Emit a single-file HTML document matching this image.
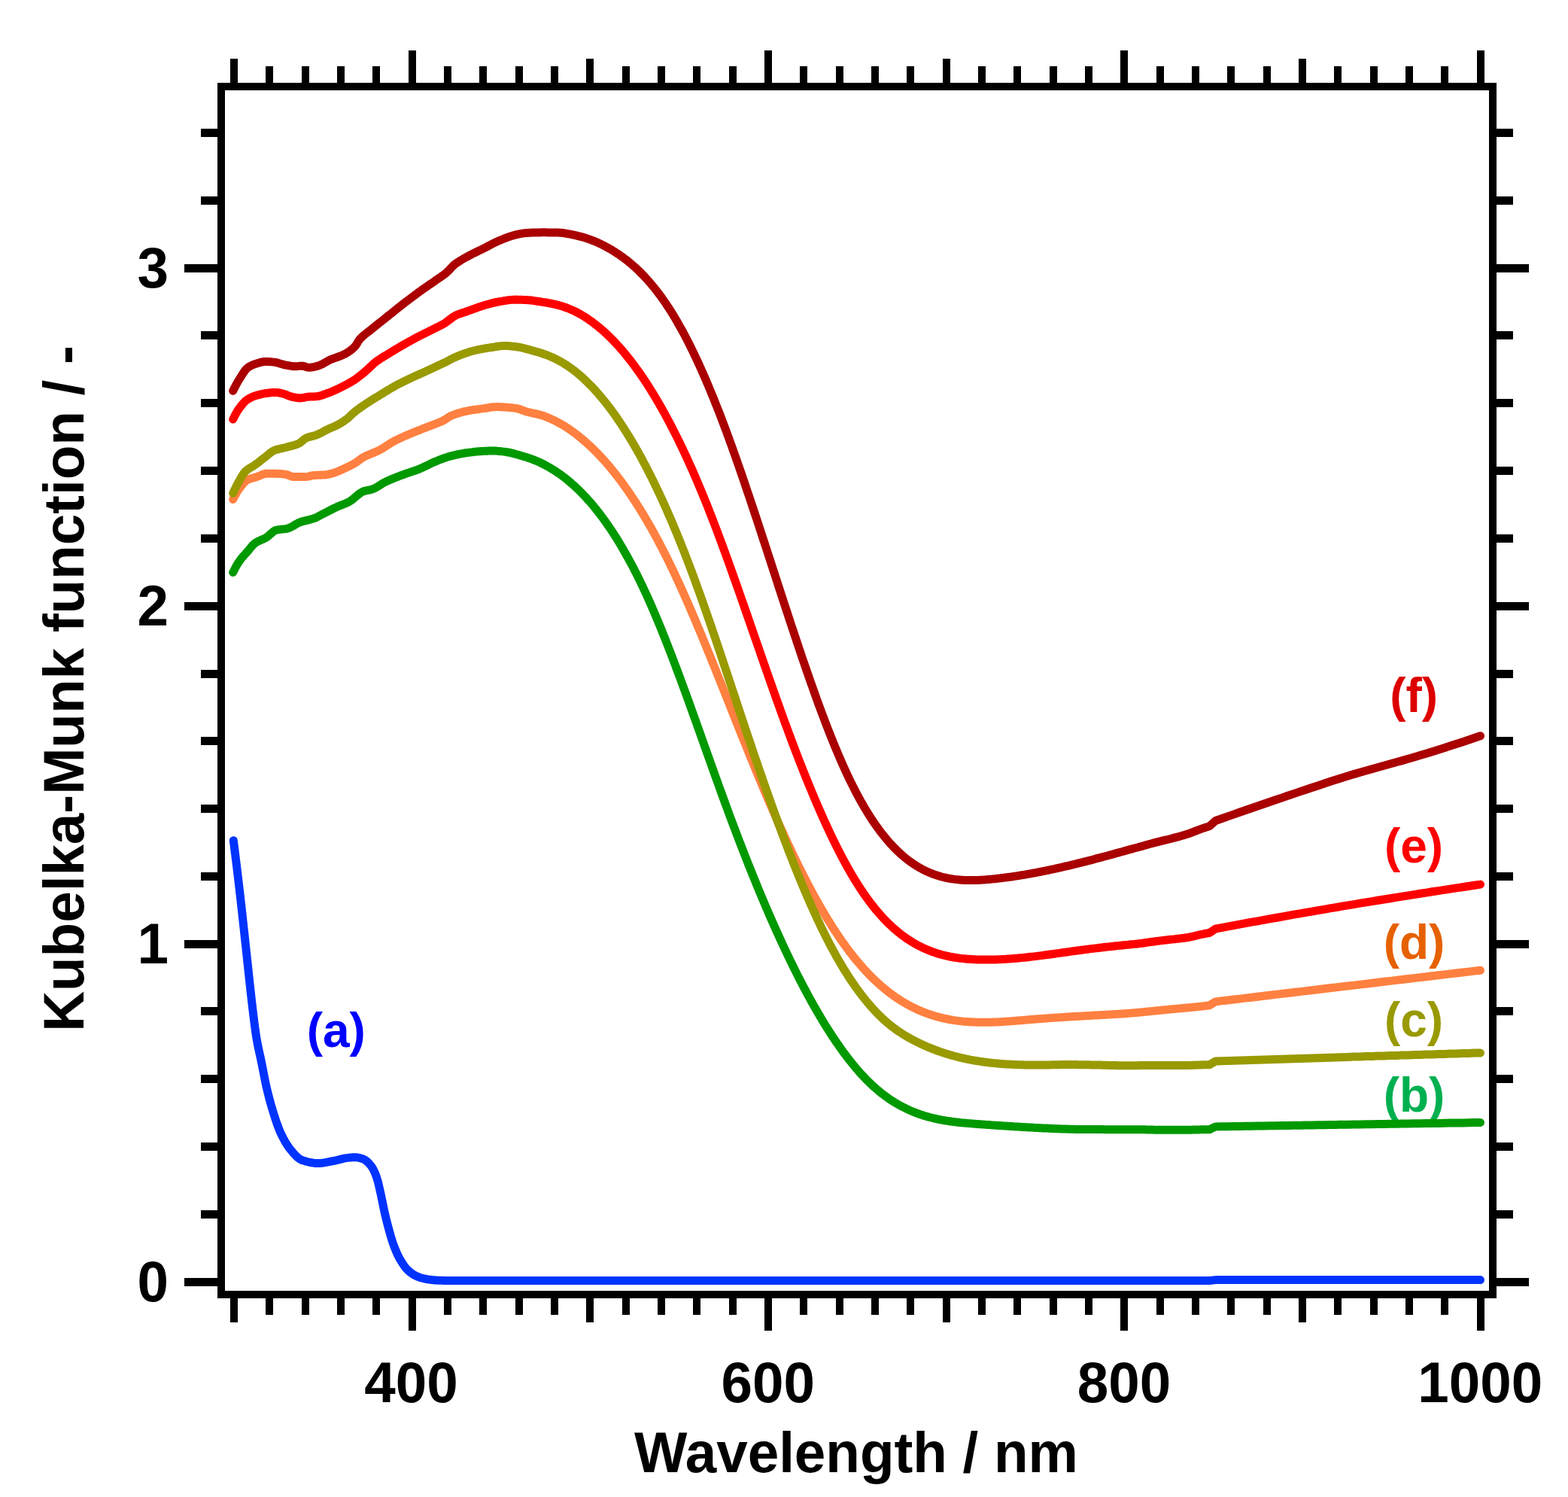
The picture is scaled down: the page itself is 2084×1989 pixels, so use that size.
<!DOCTYPE html>
<html lang="en">
<head>
<meta charset="utf-8">
<title>Kubelka-Munk function vs Wavelength</title>
<style>
html,body{margin:0;padding:0;background:#fff;}
body{width:2084px;height:1989px;overflow:hidden;}
svg{display:block;}
text{font-family:"Liberation Sans",sans-serif;font-weight:bold;}
</style>
</head>
<body>
<svg width="2084" height="1989" viewBox="0 0 2084 1989" role="img" aria-label="Kubelka-Munk function versus wavelength for samples (a) to (f)">
<rect x="0" y="0" width="2084" height="1989" fill="#ffffff"/>
<g>
<text transform="translate(446.8 1390.8) scale(1.0 1.0)" font-size="64" text-anchor="middle" fill="#0000ff">(a)</text>
<text transform="translate(1879.5 1477.3) scale(1.0 1.0)" font-size="64" text-anchor="middle" fill="#00b050">(b)</text>
<text transform="translate(1879.0 1376.9) scale(1.0 1.0)" font-size="64" text-anchor="middle" fill="#999900">(c)</text>
<text transform="translate(1879.5 1274.3) scale(1.0 1.0)" font-size="64" text-anchor="middle" fill="#e66100">(d)</text>
<text transform="translate(1879.0 1145.9) scale(1.0 1.0)" font-size="64" text-anchor="middle" fill="#ff0000">(e)</text>
<text transform="translate(1879.2 945.7) scale(1.0 1.0)" font-size="64" text-anchor="middle" fill="#dd0000">(f)</text>
</g>
<g fill="none" stroke-width="11" stroke-linecap="round" stroke-linejoin="round">
<path stroke="#aa0000" d="M309.7,519.3 L311.7,515.3 L313.7,511.4 L315.7,507.8 L317.7,504.5 L319.7,501.3 L321.7,498.1 L323.7,495.0 L325.7,492.2 L327.7,489.9 L329.7,488.2 L331.7,486.9 L333.7,485.9 L335.7,484.9 L337.7,484.1 L339.7,483.4 L341.7,482.8 L343.7,482.2 L345.7,481.6 L347.7,481.1 L349.7,480.7 L351.7,480.4 L353.7,480.4 L355.7,480.4 L357.7,480.6 L359.7,480.7 L361.7,480.9 L363.7,481.1 L365.7,481.4 L367.7,481.7 L369.7,482.3 L371.7,482.9 L373.7,483.5 L375.7,484.1 L377.7,484.6 L379.7,485.1 L381.7,485.4 L383.7,485.8 L385.7,486.1 L387.7,486.4 L389.7,486.7 L391.7,486.8 L393.7,486.8 L395.7,486.6 L397.7,486.4 L399.7,486.2 L401.7,486.2 L403.7,486.5 L405.7,487.1 L407.7,487.8 L409.7,488.2 L411.7,488.3 L413.7,488.1 L415.7,487.8 L417.7,487.4 L419.7,486.9 L421.7,486.4 L423.7,485.8 L425.7,485.0 L427.7,484.1 L429.7,483.0 L431.7,481.9 L433.7,480.7 L435.7,479.6 L437.7,478.5 L439.7,477.6 L441.7,476.8 L443.7,476.0 L445.7,475.4 L447.7,474.7 L449.7,474.0 L451.7,473.3 L453.7,472.5 L455.7,471.7 L457.7,470.7 L459.7,469.6 L461.7,468.4 L463.7,467.1 L465.7,465.7 L467.7,464.1 L469.7,462.4 L471.7,460.4 L473.7,457.7 L475.7,454.3 L477.7,451.3 L479.7,449.1 L481.7,447.2 L483.7,445.4 L485.7,443.8 L487.7,442.2 L489.7,440.7 L491.7,439.1 L493.7,437.5 L495.7,435.9 L497.7,434.2 L499.7,432.6 L501.7,431.0 L503.7,429.4 L505.7,427.9 L507.7,426.3 L509.7,424.7 L511.7,423.1 L513.7,421.5 L515.7,419.9 L517.7,418.3 L519.7,416.7 L521.7,415.1 L523.7,413.5 L525.7,411.9 L527.7,410.2 L529.7,408.6 L531.7,407.1 L533.7,405.5 L535.7,403.9 L537.7,402.4 L539.7,400.8 L541.7,399.3 L543.7,397.8 L545.7,396.3 L547.7,394.8 L549.7,393.3 L551.7,391.8 L553.7,390.4 L555.7,388.9 L557.7,387.4 L559.7,386.0 L561.7,384.6 L563.7,383.2 L565.7,381.8 L567.7,380.4 L569.7,379.0 L571.7,377.6 L573.7,376.3 L575.7,374.9 L577.7,373.5 L579.7,372.1 L581.7,370.7 L583.7,369.3 L585.7,368.0 L587.7,366.6 L589.7,365.2 L591.7,363.6 L593.7,362.0 L595.7,360.1 L597.7,358.0 L599.7,355.8 L601.7,353.7 L603.7,351.9 L605.7,350.3 L607.7,348.9 L609.7,347.6 L611.7,346.3 L613.7,345.1 L615.7,343.9 L617.7,342.8 L619.7,341.7 L621.7,340.6 L623.7,339.5 L625.7,338.5 L627.7,337.4 L629.7,336.4 L631.7,335.5 L633.7,334.5 L635.7,333.5 L637.7,332.6 L639.7,331.6 L641.7,330.6 L643.7,329.6 L645.7,328.6 L647.7,327.5 L649.7,326.5 L651.7,325.4 L653.7,324.4 L655.7,323.3 L657.7,322.3 L659.7,321.4 L661.7,320.5 L663.7,319.6 L665.7,318.8 L667.7,318.0 L669.7,317.2 L671.7,316.4 L673.7,315.6 L675.7,314.9 L677.7,314.2 L679.7,313.6 L681.7,313.0 L683.7,312.4 L685.7,311.9 L687.7,311.5 L689.7,311.0 L691.7,310.6 L693.7,310.3 L695.7,309.9 L697.7,309.7 L699.7,309.5 L701.7,309.4 L703.7,309.3 L705.7,309.2 L707.7,309.1 L709.7,309.1 L711.7,309.0 L713.7,308.9 L715.7,308.9 L717.7,308.9 L719.7,308.8 L721.7,308.8 L723.7,308.8 L725.7,308.8 L727.7,308.9 L729.7,308.9 L731.7,308.9 L733.7,308.9 L735.7,309.0 L737.7,309.0 L739.7,309.0 L741.7,309.1 L743.7,309.2 L745.7,309.3 L747.7,309.5 L749.7,309.8 L751.7,310.1 L753.7,310.5 L755.7,310.8 L757.7,311.2 L759.7,311.6 L761.7,312.0 L763.7,312.4 L765.7,312.8 L767.7,313.3 L769.7,313.8 L771.7,314.3 L773.7,314.9 L775.7,315.4 L777.7,316.1 L779.7,316.7 L781.7,317.4 L783.7,318.1 L785.7,318.8 L787.7,319.6 L789.7,320.4 L791.7,321.2 L793.7,322.1 L795.7,323.0 L797.7,323.9 L799.7,324.9 L801.7,325.9 L803.7,326.9 L805.7,328.0 L807.7,329.1 L809.7,330.2 L811.7,331.3 L813.7,332.5 L815.7,333.8 L817.7,335.0 L819.7,336.3 L821.7,337.6 L823.7,339.0 L825.7,340.4 L827.7,341.8 L829.7,343.3 L831.7,344.8 L833.7,346.4 L835.7,348.0 L837.7,349.7 L839.7,351.3 L841.7,353.1 L843.7,354.9 L845.7,356.7 L847.7,358.6 L849.7,360.5 L851.7,362.5 L853.7,364.5 L855.7,366.6 L857.7,368.7 L859.7,370.9 L861.7,373.1 L863.7,375.4 L865.7,377.8 L867.7,380.2 L869.7,382.6 L871.7,385.1 L873.7,387.7 L875.7,390.3 L877.7,393.0 L879.7,395.8 L881.7,398.6 L883.7,401.5 L885.7,404.4 L887.7,407.5 L889.7,410.5 L891.7,413.7 L893.7,416.9 L895.7,420.2 L897.7,423.5 L899.7,426.9 L901.7,430.4 L903.7,433.9 L905.7,437.5 L907.7,441.2 L909.7,444.9 L911.7,448.7 L913.7,452.6 L915.7,456.5 L917.7,460.5 L919.7,464.6 L921.7,468.7 L923.7,472.9 L925.7,477.1 L927.7,481.4 L929.7,485.8 L931.7,490.2 L933.7,494.7 L935.7,499.2 L937.7,503.8 L939.7,508.5 L941.7,513.2 L943.7,518.0 L945.7,522.8 L947.7,527.7 L949.7,532.7 L951.7,537.7 L953.7,542.7 L955.7,547.8 L957.7,553.0 L959.7,558.2 L961.7,563.5 L963.7,568.8 L965.7,574.2 L967.7,579.6 L969.7,585.1 L971.7,590.6 L973.7,596.2 L975.7,601.8 L977.7,607.4 L979.7,613.1 L981.7,618.8 L983.7,624.6 L985.7,630.4 L987.7,636.2 L989.7,642.1 L991.7,648.0 L993.7,653.9 L995.7,659.8 L997.7,665.8 L999.7,671.7 L1001.7,677.8 L1003.7,683.8 L1005.7,689.8 L1007.7,695.9 L1009.7,702.0 L1011.7,708.1 L1013.7,714.2 L1015.7,720.3 L1017.7,726.4 L1019.7,732.6 L1021.7,738.7 L1023.7,744.8 L1025.7,751.0 L1027.7,757.1 L1029.7,763.3 L1031.7,769.4 L1033.7,775.6 L1035.7,781.7 L1037.7,787.9 L1039.7,794.0 L1041.7,800.1 L1043.7,806.2 L1045.7,812.3 L1047.7,818.4 L1049.7,824.5 L1051.7,830.6 L1053.7,836.6 L1055.7,842.6 L1057.7,848.6 L1059.7,854.6 L1061.7,860.5 L1063.7,866.5 L1065.7,872.4 L1067.7,878.2 L1069.7,884.1 L1071.7,889.9 L1073.7,895.6 L1075.7,901.4 L1077.7,907.1 L1079.7,912.7 L1081.7,918.4 L1083.7,923.9 L1085.7,929.5 L1087.7,935.0 L1089.7,940.4 L1091.7,945.8 L1093.7,951.1 L1095.7,956.4 L1097.7,961.7 L1099.7,966.9 L1101.7,972.0 L1103.7,977.0 L1105.7,982.1 L1107.7,987.0 L1109.7,991.9 L1111.7,996.7 L1113.7,1001.4 L1115.7,1006.1 L1117.7,1010.7 L1119.7,1015.3 L1121.7,1019.7 L1123.7,1024.1 L1125.7,1028.5 L1127.7,1032.7 L1129.7,1036.8 L1131.7,1040.9 L1133.7,1044.9 L1135.7,1048.8 L1137.7,1052.7 L1139.7,1056.5 L1141.7,1060.2 L1143.7,1063.8 L1145.7,1067.3 L1147.7,1070.8 L1149.7,1074.2 L1151.7,1077.5 L1153.7,1080.8 L1155.7,1083.9 L1157.7,1087.1 L1159.7,1090.1 L1161.7,1093.1 L1163.7,1096.0 L1165.7,1098.8 L1167.7,1101.5 L1169.7,1104.2 L1171.7,1106.9 L1173.7,1109.4 L1175.7,1111.9 L1177.7,1114.3 L1179.7,1116.7 L1181.7,1119.0 L1183.7,1121.2 L1185.7,1123.4 L1187.7,1125.5 L1189.7,1127.5 L1191.7,1129.5 L1193.7,1131.4 L1195.7,1133.3 L1197.7,1135.1 L1199.7,1136.9 L1201.7,1138.6 L1203.7,1140.2 L1205.7,1141.8 L1207.7,1143.3 L1209.7,1144.8 L1211.7,1146.2 L1213.7,1147.6 L1215.7,1148.9 L1217.7,1150.2 L1219.7,1151.4 L1221.7,1152.6 L1223.7,1153.7 L1225.7,1154.8 L1227.7,1155.8 L1229.7,1156.8 L1231.7,1157.8 L1233.7,1158.7 L1235.7,1159.5 L1237.7,1160.3 L1239.7,1161.1 L1241.7,1161.9 L1243.7,1162.6 L1245.7,1163.2 L1247.7,1163.8 L1249.7,1164.4 L1251.7,1165.0 L1253.7,1165.5 L1255.7,1166.0 L1257.7,1166.4 L1259.7,1166.8 L1261.7,1167.2 L1263.7,1167.5 L1265.7,1167.9 L1267.7,1168.1 L1269.7,1168.4 L1271.7,1168.6 L1273.7,1168.8 L1275.7,1169.0 L1277.7,1169.2 L1279.7,1169.3 L1281.7,1169.4 L1283.7,1169.5 L1285.7,1169.5 L1287.7,1169.6 L1289.7,1169.6 L1291.7,1169.6 L1293.7,1169.6 L1295.7,1169.5 L1297.7,1169.5 L1299.7,1169.4 L1301.7,1169.3 L1303.7,1169.2 L1305.7,1169.1 L1307.7,1168.9 L1309.7,1168.8 L1311.7,1168.6 L1313.7,1168.5 L1315.7,1168.3 L1317.7,1168.1 L1319.7,1167.9 L1321.7,1167.7 L1323.7,1167.5 L1325.7,1167.2 L1327.7,1167.0 L1329.7,1166.8 L1331.7,1166.5 L1333.7,1166.3 L1335.7,1166.0 L1337.7,1165.8 L1339.7,1165.5 L1341.7,1165.2 L1343.7,1165.0 L1345.7,1164.7 L1347.7,1164.4 L1349.7,1164.1 L1351.7,1163.8 L1353.7,1163.5 L1355.7,1163.1 L1357.7,1162.8 L1359.7,1162.5 L1361.7,1162.2 L1363.7,1161.8 L1365.7,1161.5 L1367.7,1161.1 L1369.7,1160.8 L1371.7,1160.4 L1373.7,1160.0 L1375.7,1159.7 L1377.7,1159.3 L1379.7,1158.9 L1381.7,1158.5 L1383.7,1158.1 L1385.7,1157.7 L1387.7,1157.3 L1389.7,1156.9 L1391.7,1156.5 L1393.7,1156.1 L1395.7,1155.7 L1397.7,1155.2 L1399.7,1154.8 L1401.7,1154.4 L1403.7,1153.9 L1405.7,1153.5 L1407.7,1153.0 L1409.7,1152.6 L1411.7,1152.1 L1413.7,1151.7 L1415.7,1151.2 L1417.7,1150.7 L1419.7,1150.3 L1421.7,1149.8 L1423.7,1149.3 L1425.7,1148.8 L1427.7,1148.3 L1429.7,1147.9 L1431.7,1147.4 L1433.7,1146.9 L1435.7,1146.4 L1437.7,1145.9 L1439.7,1145.4 L1441.7,1144.9 L1443.7,1144.4 L1445.7,1143.8 L1447.7,1143.3 L1449.7,1142.8 L1451.7,1142.3 L1453.7,1141.8 L1455.7,1141.2 L1457.7,1140.7 L1459.7,1140.2 L1461.7,1139.7 L1463.7,1139.1 L1465.7,1138.6 L1467.7,1138.0 L1469.7,1137.5 L1471.7,1137.0 L1473.7,1136.4 L1475.7,1135.9 L1477.7,1135.3 L1479.7,1134.8 L1481.7,1134.2 L1483.7,1133.7 L1485.7,1133.1 L1487.7,1132.6 L1489.7,1132.0 L1491.7,1131.5 L1493.7,1130.9 L1495.7,1130.4 L1497.7,1129.8 L1499.7,1129.2 L1501.7,1128.7 L1503.7,1128.1 L1505.7,1127.6 L1507.7,1127.0 L1509.7,1126.5 L1511.7,1126.0 L1513.7,1125.4 L1515.7,1124.9 L1517.7,1124.3 L1519.7,1123.8 L1521.7,1123.2 L1523.7,1122.6 L1525.7,1122.1 L1527.7,1121.5 L1529.7,1121.0 L1531.7,1120.4 L1533.7,1119.9 L1535.7,1119.4 L1537.7,1118.9 L1539.7,1118.4 L1541.7,1117.9 L1543.7,1117.4 L1545.7,1116.9 L1547.7,1116.4 L1549.7,1116.0 L1551.7,1115.5 L1553.7,1115.0 L1555.7,1114.5 L1557.7,1113.9 L1559.7,1113.4 L1561.7,1112.9 L1563.7,1112.4 L1565.7,1111.8 L1567.7,1111.3 L1569.7,1110.7 L1571.7,1110.1 L1573.7,1109.6 L1575.7,1109.0 L1577.7,1108.3 L1579.7,1107.7 L1581.7,1107.0 L1583.7,1106.2 L1585.7,1105.5 L1587.7,1104.7 L1589.7,1103.9 L1591.7,1103.1 L1593.7,1102.4 L1595.7,1101.6 L1597.7,1100.9 L1599.7,1100.2 L1601.7,1099.6 L1603.7,1098.9 L1605.7,1098.3 L1607.5,1097.8 L1615.5,1090.5 L1623.5,1087.7 L1631.5,1084.9 L1639.5,1082.1 L1647.5,1079.3 L1655.5,1076.5 L1663.5,1073.7 L1671.5,1071.0 L1679.5,1068.2 L1687.5,1065.5 L1695.5,1062.8 L1703.5,1060.1 L1711.5,1057.3 L1719.5,1054.6 L1727.5,1051.9 L1735.5,1049.2 L1743.5,1046.5 L1751.5,1043.9 L1759.5,1041.2 L1767.5,1038.6 L1775.5,1036.1 L1783.5,1033.5 L1791.5,1031.1 L1799.5,1028.6 L1807.5,1026.3 L1815.5,1024.0 L1823.5,1021.7 L1831.5,1019.5 L1839.5,1017.3 L1847.5,1015.0 L1855.5,1012.8 L1863.5,1010.6 L1871.5,1008.3 L1879.5,1006.0 L1887.5,1003.6 L1895.5,1001.2 L1903.5,998.7 L1911.5,996.2 L1919.5,993.7 L1927.5,991.1 L1935.5,988.5 L1943.5,985.9 L1951.5,983.2 L1959.5,980.5 L1967.5,977.8"/>
<path stroke="#ff0000" d="M309.7,557.1 L311.7,553.1 L313.7,549.3 L315.7,545.9 L317.7,542.9 L319.7,540.2 L321.7,537.7 L323.7,535.3 L325.7,533.3 L327.7,531.6 L329.7,530.3 L331.7,529.1 L333.7,528.1 L335.7,527.2 L337.7,526.4 L339.7,525.7 L341.7,525.1 L343.7,524.6 L345.7,524.1 L347.7,523.6 L349.7,523.2 L351.7,522.8 L353.7,522.5 L355.7,522.3 L357.7,522.0 L359.7,521.8 L361.7,521.6 L363.7,521.5 L365.7,521.4 L367.7,521.5 L369.7,521.7 L371.7,522.1 L373.7,522.5 L375.7,523.0 L377.7,523.6 L379.7,524.2 L381.7,525.1 L383.7,525.9 L385.7,526.6 L387.7,527.1 L389.7,527.6 L391.7,528.0 L393.7,528.4 L395.7,528.7 L397.7,528.8 L399.7,528.9 L401.7,528.6 L403.7,528.3 L405.7,527.8 L407.7,527.4 L409.7,527.2 L411.7,527.1 L413.7,527.0 L415.7,526.9 L417.7,526.9 L419.7,526.8 L421.7,526.6 L423.7,526.3 L425.7,525.8 L427.7,525.2 L429.7,524.5 L431.7,523.8 L433.7,523.0 L435.7,522.3 L437.7,521.6 L439.7,520.8 L441.7,520.0 L443.7,519.1 L445.7,518.2 L447.7,517.3 L449.7,516.3 L451.7,515.3 L453.7,514.4 L455.7,513.4 L457.7,512.3 L459.7,511.3 L461.7,510.2 L463.7,509.1 L465.7,508.0 L467.7,506.8 L469.7,505.6 L471.7,504.3 L473.7,502.9 L475.7,501.4 L477.7,499.9 L479.7,498.3 L481.7,496.7 L483.7,495.0 L485.7,493.3 L487.7,491.6 L489.7,489.7 L491.7,487.8 L493.7,485.9 L495.7,484.0 L497.7,482.2 L499.7,480.6 L501.7,479.1 L503.7,477.8 L505.7,476.5 L507.7,475.2 L509.7,474.0 L511.7,472.8 L513.7,471.6 L515.7,470.4 L517.7,469.1 L519.7,467.9 L521.7,466.7 L523.7,465.5 L525.7,464.3 L527.7,463.1 L529.7,461.9 L531.7,460.7 L533.7,459.5 L535.7,458.4 L537.7,457.3 L539.7,456.1 L541.7,455.0 L543.7,453.9 L545.7,452.8 L547.7,451.7 L549.7,450.6 L551.7,449.5 L553.7,448.4 L555.7,447.4 L557.7,446.3 L559.7,445.3 L561.7,444.3 L563.7,443.3 L565.7,442.3 L567.7,441.3 L569.7,440.3 L571.7,439.3 L573.7,438.3 L575.7,437.3 L577.7,436.3 L579.7,435.3 L581.7,434.4 L583.7,433.4 L585.7,432.4 L587.7,431.4 L589.7,430.3 L591.7,429.0 L593.7,427.6 L595.7,426.0 L597.7,424.5 L599.7,423.0 L601.7,421.5 L603.7,420.2 L605.7,419.1 L607.7,418.2 L609.7,417.4 L611.7,416.7 L613.7,416.0 L615.7,415.3 L617.7,414.7 L619.7,414.0 L621.7,413.3 L623.7,412.6 L625.7,411.9 L627.7,411.1 L629.7,410.4 L631.7,409.7 L633.7,409.0 L635.7,408.2 L637.7,407.6 L639.7,406.9 L641.7,406.3 L643.7,405.7 L645.7,405.1 L647.7,404.5 L649.7,404.0 L651.7,403.4 L653.7,402.9 L655.7,402.4 L657.7,401.9 L659.7,401.5 L661.7,401.1 L663.7,400.7 L665.7,400.4 L667.7,400.1 L669.7,399.7 L671.7,399.4 L673.7,399.1 L675.7,398.8 L677.7,398.6 L679.7,398.4 L681.7,398.2 L683.7,398.2 L685.7,398.1 L687.7,398.2 L689.7,398.2 L691.7,398.2 L693.7,398.3 L695.7,398.4 L697.7,398.5 L699.7,398.5 L701.7,398.7 L703.7,398.8 L705.7,399.0 L707.7,399.3 L709.7,399.6 L711.7,399.9 L713.7,400.2 L715.7,400.5 L717.7,400.8 L719.7,401.1 L721.7,401.4 L723.7,401.7 L725.7,402.0 L727.7,402.4 L729.7,402.7 L731.7,403.1 L733.7,403.5 L735.7,404.0 L737.7,404.4 L739.7,404.9 L741.7,405.4 L743.7,405.9 L745.7,406.5 L747.7,407.1 L749.7,407.8 L751.7,408.5 L753.7,409.2 L755.7,410.0 L757.7,410.8 L759.7,411.7 L761.7,412.6 L763.7,413.5 L765.7,414.5 L767.7,415.5 L769.7,416.6 L771.7,417.7 L773.7,418.9 L775.7,420.1 L777.7,421.3 L779.7,422.6 L781.7,424.0 L783.7,425.4 L785.7,426.8 L787.7,428.2 L789.7,429.8 L791.7,431.3 L793.7,432.9 L795.7,434.5 L797.7,436.2 L799.7,437.9 L801.7,439.6 L803.7,441.4 L805.7,443.3 L807.7,445.2 L809.7,447.1 L811.7,449.1 L813.7,451.1 L815.7,453.1 L817.7,455.2 L819.7,457.4 L821.7,459.6 L823.7,461.8 L825.7,464.1 L827.7,466.4 L829.7,468.8 L831.7,471.2 L833.7,473.7 L835.7,476.2 L837.7,478.7 L839.7,481.3 L841.7,484.0 L843.7,486.7 L845.7,489.4 L847.7,492.2 L849.7,495.0 L851.7,497.9 L853.7,500.8 L855.7,503.8 L857.7,506.8 L859.7,509.8 L861.7,512.9 L863.7,516.1 L865.7,519.3 L867.7,522.5 L869.7,525.8 L871.7,529.2 L873.7,532.6 L875.7,536.0 L877.7,539.5 L879.7,543.0 L881.7,546.6 L883.7,550.2 L885.7,553.9 L887.7,557.6 L889.7,561.3 L891.7,565.1 L893.7,569.0 L895.7,572.9 L897.7,576.9 L899.7,580.9 L901.7,584.9 L903.7,589.0 L905.7,593.2 L907.7,597.4 L909.7,601.6 L911.7,605.9 L913.7,610.3 L915.7,614.7 L917.7,619.1 L919.7,623.6 L921.7,628.1 L923.7,632.7 L925.7,637.4 L927.7,642.1 L929.7,646.8 L931.7,651.6 L933.7,656.4 L935.7,661.3 L937.7,666.3 L939.7,671.2 L941.7,676.3 L943.7,681.4 L945.7,686.5 L947.7,691.7 L949.7,696.9 L951.7,702.1 L953.7,707.4 L955.7,712.8 L957.7,718.1 L959.7,723.5 L961.7,729.0 L963.7,734.4 L965.7,739.9 L967.7,745.4 L969.7,751.0 L971.7,756.6 L973.7,762.2 L975.7,767.8 L977.7,773.4 L979.7,779.1 L981.7,784.8 L983.7,790.5 L985.7,796.2 L987.7,801.9 L989.7,807.6 L991.7,813.4 L993.7,819.1 L995.7,824.9 L997.7,830.7 L999.7,836.4 L1001.7,842.2 L1003.7,848.0 L1005.7,853.8 L1007.7,859.5 L1009.7,865.3 L1011.7,871.1 L1013.7,876.8 L1015.7,882.6 L1017.7,888.3 L1019.7,894.0 L1021.7,899.7 L1023.7,905.4 L1025.7,911.1 L1027.7,916.8 L1029.7,922.4 L1031.7,928.1 L1033.7,933.7 L1035.7,939.2 L1037.7,944.8 L1039.7,950.3 L1041.7,955.8 L1043.7,961.3 L1045.7,966.7 L1047.7,972.2 L1049.7,977.5 L1051.7,982.9 L1053.7,988.2 L1055.7,993.5 L1057.7,998.7 L1059.7,1003.9 L1061.7,1009.1 L1063.7,1014.2 L1065.7,1019.3 L1067.7,1024.4 L1069.7,1029.4 L1071.7,1034.4 L1073.7,1039.3 L1075.7,1044.2 L1077.7,1049.0 L1079.7,1053.8 L1081.7,1058.6 L1083.7,1063.3 L1085.7,1068.0 L1087.7,1072.6 L1089.7,1077.2 L1091.7,1081.8 L1093.7,1086.3 L1095.7,1090.7 L1097.7,1095.1 L1099.7,1099.4 L1101.7,1103.7 L1103.7,1108.0 L1105.7,1112.2 L1107.7,1116.3 L1109.7,1120.4 L1111.7,1124.4 L1113.7,1128.4 L1115.7,1132.3 L1117.7,1136.2 L1119.7,1140.0 L1121.7,1143.7 L1123.7,1147.4 L1125.7,1151.0 L1127.7,1154.6 L1129.7,1158.1 L1131.7,1161.6 L1133.7,1164.9 L1135.7,1168.3 L1137.7,1171.5 L1139.7,1174.7 L1141.7,1177.9 L1143.7,1180.9 L1145.7,1183.9 L1147.7,1186.9 L1149.7,1189.7 L1151.7,1192.6 L1153.7,1195.3 L1155.7,1198.0 L1157.7,1200.6 L1159.7,1203.2 L1161.7,1205.7 L1163.7,1208.2 L1165.7,1210.6 L1167.7,1212.9 L1169.7,1215.2 L1171.7,1217.4 L1173.7,1219.6 L1175.7,1221.7 L1177.7,1223.8 L1179.7,1225.8 L1181.7,1227.7 L1183.7,1229.6 L1185.7,1231.5 L1187.7,1233.3 L1189.7,1235.0 L1191.7,1236.7 L1193.7,1238.4 L1195.7,1240.0 L1197.7,1241.6 L1199.7,1243.1 L1201.7,1244.6 L1203.7,1246.0 L1205.7,1247.4 L1207.7,1248.7 L1209.7,1250.0 L1211.7,1251.2 L1213.7,1252.5 L1215.7,1253.6 L1217.7,1254.8 L1219.7,1255.9 L1221.7,1256.9 L1223.7,1257.9 L1225.7,1258.9 L1227.7,1259.8 L1229.7,1260.7 L1231.7,1261.6 L1233.7,1262.4 L1235.7,1263.2 L1237.7,1264.0 L1239.7,1264.7 L1241.7,1265.4 L1243.7,1266.1 L1245.7,1266.8 L1247.7,1267.4 L1249.7,1267.9 L1251.7,1268.5 L1253.7,1269.0 L1255.7,1269.5 L1257.7,1270.0 L1259.7,1270.4 L1261.7,1270.9 L1263.7,1271.3 L1265.7,1271.6 L1267.7,1272.0 L1269.7,1272.3 L1271.7,1272.6 L1273.7,1272.9 L1275.7,1273.2 L1277.7,1273.4 L1279.7,1273.6 L1281.7,1273.8 L1283.7,1274.0 L1285.7,1274.2 L1287.7,1274.3 L1289.7,1274.5 L1291.7,1274.6 L1293.7,1274.7 L1295.7,1274.8 L1297.7,1274.9 L1299.7,1275.0 L1301.7,1275.0 L1303.7,1275.1 L1305.7,1275.1 L1307.7,1275.1 L1309.7,1275.1 L1311.7,1275.1 L1313.7,1275.1 L1315.7,1275.1 L1317.7,1275.1 L1319.7,1275.0 L1321.7,1275.0 L1323.7,1274.9 L1325.7,1274.8 L1327.7,1274.8 L1329.7,1274.7 L1331.7,1274.6 L1333.7,1274.5 L1335.7,1274.4 L1337.7,1274.2 L1339.7,1274.1 L1341.7,1274.0 L1343.7,1273.8 L1345.7,1273.7 L1347.7,1273.5 L1349.7,1273.3 L1351.7,1273.2 L1353.7,1273.0 L1355.7,1272.8 L1357.7,1272.6 L1359.7,1272.4 L1361.7,1272.2 L1363.7,1272.0 L1365.7,1271.8 L1367.7,1271.5 L1369.7,1271.3 L1371.7,1271.1 L1373.7,1270.9 L1375.7,1270.6 L1377.7,1270.4 L1379.7,1270.1 L1381.7,1269.9 L1383.7,1269.6 L1385.7,1269.4 L1387.7,1269.1 L1389.7,1268.8 L1391.7,1268.6 L1393.7,1268.3 L1395.7,1268.0 L1397.7,1267.7 L1399.7,1267.5 L1401.7,1267.2 L1403.7,1266.9 L1405.7,1266.6 L1407.7,1266.4 L1409.7,1266.1 L1411.7,1265.8 L1413.7,1265.5 L1415.7,1265.2 L1417.7,1265.0 L1419.7,1264.7 L1421.7,1264.4 L1423.7,1264.1 L1425.7,1263.8 L1427.7,1263.6 L1429.7,1263.3 L1431.7,1263.0 L1433.7,1262.7 L1435.7,1262.5 L1437.7,1262.2 L1439.7,1261.9 L1441.7,1261.7 L1443.7,1261.4 L1445.7,1261.2 L1447.7,1260.9 L1449.7,1260.6 L1451.7,1260.4 L1453.7,1260.2 L1455.7,1259.9 L1457.7,1259.7 L1459.7,1259.5 L1461.7,1259.2 L1463.7,1259.0 L1465.7,1258.8 L1467.7,1258.5 L1469.7,1258.3 L1471.7,1258.1 L1473.7,1257.9 L1475.7,1257.7 L1477.7,1257.5 L1479.7,1257.3 L1481.7,1257.0 L1483.7,1256.8 L1485.7,1256.6 L1487.7,1256.4 L1489.7,1256.2 L1491.7,1256.0 L1493.7,1255.8 L1495.7,1255.6 L1497.7,1255.4 L1499.7,1255.2 L1501.7,1255.0 L1503.7,1254.8 L1505.7,1254.6 L1507.7,1254.4 L1509.7,1254.2 L1511.7,1254.0 L1513.7,1253.7 L1515.7,1253.5 L1517.7,1253.3 L1519.7,1253.0 L1521.7,1252.7 L1523.7,1252.4 L1525.7,1252.1 L1527.7,1251.8 L1529.7,1251.5 L1531.7,1251.2 L1533.7,1251.0 L1535.7,1250.7 L1537.7,1250.4 L1539.7,1250.2 L1541.7,1249.9 L1543.7,1249.7 L1545.7,1249.4 L1547.7,1249.2 L1549.7,1249.0 L1551.7,1248.8 L1553.7,1248.5 L1555.7,1248.3 L1557.7,1248.1 L1559.7,1247.9 L1561.7,1247.7 L1563.7,1247.4 L1565.7,1247.2 L1567.7,1247.0 L1569.7,1246.8 L1571.7,1246.5 L1573.7,1246.3 L1575.7,1246.0 L1577.7,1245.7 L1579.7,1245.4 L1581.7,1245.0 L1583.7,1244.5 L1585.7,1244.1 L1587.7,1243.6 L1589.7,1243.1 L1591.7,1242.7 L1593.7,1242.2 L1595.7,1241.7 L1597.7,1241.3 L1599.7,1240.9 L1601.7,1240.5 L1603.7,1240.1 L1605.7,1239.8 L1607.5,1239.5 L1615.5,1234.1 L1623.5,1232.6 L1631.5,1231.1 L1639.5,1229.6 L1647.5,1228.2 L1655.5,1226.7 L1663.5,1225.2 L1671.5,1223.8 L1679.5,1222.4 L1687.5,1220.9 L1695.5,1219.5 L1703.5,1218.1 L1711.5,1216.6 L1719.5,1215.2 L1727.5,1213.8 L1735.5,1212.4 L1743.5,1211.1 L1751.5,1209.7 L1759.5,1208.3 L1767.5,1206.9 L1775.5,1205.6 L1783.5,1204.2 L1791.5,1202.9 L1799.5,1201.6 L1807.5,1200.2 L1815.5,1198.9 L1823.5,1197.6 L1831.5,1196.3 L1839.5,1195.0 L1847.5,1193.7 L1855.5,1192.4 L1863.5,1191.1 L1871.5,1189.9 L1879.5,1188.6 L1887.5,1187.3 L1895.5,1186.1 L1903.5,1184.8 L1911.5,1183.6 L1919.5,1182.4 L1927.5,1181.1 L1935.5,1179.9 L1943.5,1178.7 L1951.5,1177.5 L1959.5,1176.3 L1967.5,1175.1"/>
<path stroke="#ff8040" d="M309.7,663.5 L311.7,659.6 L313.7,656.0 L315.7,652.7 L317.7,649.7 L319.7,647.0 L321.7,644.4 L323.7,642.0 L325.7,639.9 L327.7,638.3 L329.7,637.2 L331.7,636.4 L333.7,635.8 L335.7,635.2 L337.7,634.6 L339.7,634.1 L341.7,633.4 L343.7,632.6 L345.7,631.8 L347.7,630.9 L349.7,630.1 L351.7,629.6 L353.7,629.3 L355.7,629.3 L357.7,629.3 L359.7,629.3 L361.7,629.3 L363.7,629.3 L365.7,629.3 L367.7,629.3 L369.7,629.4 L371.7,629.5 L373.7,629.6 L375.7,629.8 L377.7,630.1 L379.7,630.3 L381.7,630.8 L383.7,631.5 L385.7,632.4 L387.7,633.1 L389.7,633.5 L391.7,633.6 L393.7,633.6 L395.7,633.6 L397.7,633.6 L399.7,633.6 L401.7,633.6 L403.7,633.6 L405.7,633.6 L407.7,633.4 L409.7,633.1 L411.7,632.6 L413.7,632.1 L415.7,631.7 L417.7,631.5 L419.7,631.4 L421.7,631.3 L423.7,631.2 L425.7,631.2 L427.7,631.1 L429.7,631.1 L431.7,631.0 L433.7,630.7 L435.7,630.4 L437.7,629.9 L439.7,629.4 L441.7,628.8 L443.7,628.3 L445.7,627.6 L447.7,626.9 L449.7,626.1 L451.7,625.2 L453.7,624.3 L455.7,623.3 L457.7,622.4 L459.7,621.5 L461.7,620.6 L463.7,619.6 L465.7,618.6 L467.7,617.6 L469.7,616.5 L471.7,615.4 L473.7,614.1 L475.7,612.6 L477.7,611.1 L479.7,609.6 L481.7,608.3 L483.7,607.2 L485.7,606.2 L487.7,605.2 L489.7,604.4 L491.7,603.5 L493.7,602.7 L495.7,601.9 L497.7,601.1 L499.7,600.2 L501.7,599.3 L503.7,598.3 L505.7,597.2 L507.7,596.1 L509.7,594.9 L511.7,593.6 L513.7,592.3 L515.7,591.0 L517.7,589.8 L519.7,588.5 L521.7,587.3 L523.7,586.2 L525.7,585.2 L527.7,584.2 L529.7,583.2 L531.7,582.3 L533.7,581.3 L535.7,580.5 L537.7,579.6 L539.7,578.7 L541.7,577.9 L543.7,577.0 L545.7,576.2 L547.7,575.3 L549.7,574.5 L551.7,573.7 L553.7,572.9 L555.7,572.1 L557.7,571.3 L559.7,570.5 L561.7,569.7 L563.7,568.9 L565.7,568.2 L567.7,567.4 L569.7,566.6 L571.7,565.8 L573.7,565.1 L575.7,564.3 L577.7,563.6 L579.7,562.8 L581.7,562.0 L583.7,561.2 L585.7,560.4 L587.7,559.5 L589.7,558.5 L591.7,557.3 L593.7,556.0 L595.7,554.7 L597.7,553.4 L599.7,552.4 L601.7,551.6 L603.7,550.9 L605.7,550.1 L607.7,549.5 L609.7,548.8 L611.7,548.3 L613.7,547.7 L615.7,547.2 L617.7,546.7 L619.7,546.3 L621.7,545.9 L623.7,545.5 L625.7,545.1 L627.7,544.8 L629.7,544.5 L631.7,544.2 L633.7,543.9 L635.7,543.7 L637.7,543.4 L639.7,543.1 L641.7,542.9 L643.7,542.6 L645.7,542.3 L647.7,542.0 L649.7,541.6 L651.7,541.3 L653.7,541.0 L655.7,540.8 L657.7,540.7 L659.7,540.6 L661.7,540.6 L663.7,540.7 L665.7,540.7 L667.7,540.8 L669.7,540.9 L671.7,541.1 L673.7,541.2 L675.7,541.4 L677.7,541.5 L679.7,541.7 L681.7,541.9 L683.7,542.2 L685.7,542.4 L687.7,542.8 L689.7,543.3 L691.7,544.0 L693.7,544.8 L695.7,545.6 L697.7,546.3 L699.7,546.9 L701.7,547.5 L703.7,548.0 L705.7,548.4 L707.7,548.9 L709.7,549.3 L711.7,549.7 L713.7,550.2 L715.7,550.7 L717.7,551.2 L719.7,551.7 L721.7,552.3 L723.7,553.0 L725.7,553.8 L727.7,554.6 L729.7,555.4 L731.7,556.3 L733.7,557.3 L735.7,558.2 L737.7,559.2 L739.7,560.2 L741.7,561.3 L743.7,562.3 L745.7,563.5 L747.7,564.6 L749.7,565.8 L751.7,567.0 L753.7,568.3 L755.7,569.6 L757.7,571.0 L759.7,572.4 L761.7,573.8 L763.7,575.3 L765.7,576.8 L767.7,578.4 L769.7,580.0 L771.7,581.6 L773.7,583.3 L775.7,585.0 L777.7,586.7 L779.7,588.5 L781.7,590.3 L783.7,592.1 L785.7,594.0 L787.7,595.9 L789.7,597.9 L791.7,599.9 L793.7,601.9 L795.7,604.0 L797.7,606.1 L799.7,608.2 L801.7,610.4 L803.7,612.7 L805.7,614.9 L807.7,617.2 L809.7,619.6 L811.7,622.0 L813.7,624.4 L815.7,626.9 L817.7,629.4 L819.7,631.9 L821.7,634.5 L823.7,637.1 L825.7,639.8 L827.7,642.5 L829.7,645.3 L831.7,648.1 L833.7,650.9 L835.7,653.8 L837.7,656.7 L839.7,659.7 L841.7,662.7 L843.7,665.7 L845.7,668.8 L847.7,671.9 L849.7,675.1 L851.7,678.3 L853.7,681.6 L855.7,684.9 L857.7,688.3 L859.7,691.7 L861.7,695.1 L863.7,698.6 L865.7,702.1 L867.7,705.7 L869.7,709.3 L871.7,713.0 L873.7,716.7 L875.7,720.4 L877.7,724.2 L879.7,728.0 L881.7,731.9 L883.7,735.9 L885.7,739.8 L887.7,743.9 L889.7,747.9 L891.7,752.1 L893.7,756.2 L895.7,760.4 L897.7,764.7 L899.7,769.0 L901.7,773.3 L903.7,777.7 L905.7,782.1 L907.7,786.5 L909.7,791.0 L911.7,795.6 L913.7,800.1 L915.7,804.7 L917.7,809.3 L919.7,814.0 L921.7,818.6 L923.7,823.3 L925.7,828.1 L927.7,832.8 L929.7,837.6 L931.7,842.4 L933.7,847.3 L935.7,852.1 L937.7,857.0 L939.7,861.9 L941.7,866.8 L943.7,871.7 L945.7,876.6 L947.7,881.6 L949.7,886.5 L951.7,891.5 L953.7,896.5 L955.7,901.5 L957.7,906.5 L959.7,911.5 L961.7,916.5 L963.7,921.5 L965.7,926.5 L967.7,931.5 L969.7,936.6 L971.7,941.6 L973.7,946.6 L975.7,951.6 L977.7,956.6 L979.7,961.6 L981.7,966.6 L983.7,971.6 L985.7,976.6 L987.7,981.6 L989.7,986.6 L991.7,991.5 L993.7,996.5 L995.7,1001.4 L997.7,1006.3 L999.7,1011.2 L1001.7,1016.1 L1003.7,1021.0 L1005.7,1025.8 L1007.7,1030.7 L1009.7,1035.5 L1011.7,1040.3 L1013.7,1045.0 L1015.7,1049.8 L1017.7,1054.5 L1019.7,1059.2 L1021.7,1063.9 L1023.7,1068.5 L1025.7,1073.2 L1027.7,1077.8 L1029.7,1082.3 L1031.7,1086.9 L1033.7,1091.4 L1035.7,1095.9 L1037.7,1100.3 L1039.7,1104.8 L1041.7,1109.1 L1043.7,1113.5 L1045.7,1117.8 L1047.7,1122.1 L1049.7,1126.4 L1051.7,1130.6 L1053.7,1134.8 L1055.7,1139.0 L1057.7,1143.1 L1059.7,1147.2 L1061.7,1151.3 L1063.7,1155.3 L1065.7,1159.3 L1067.7,1163.2 L1069.7,1167.1 L1071.7,1171.0 L1073.7,1174.8 L1075.7,1178.6 L1077.7,1182.4 L1079.7,1186.1 L1081.7,1189.8 L1083.7,1193.4 L1085.7,1197.0 L1087.7,1200.5 L1089.7,1204.0 L1091.7,1207.5 L1093.7,1210.9 L1095.7,1214.3 L1097.7,1217.7 L1099.7,1221.0 L1101.7,1224.2 L1103.7,1227.4 L1105.7,1230.6 L1107.7,1233.7 L1109.7,1236.8 L1111.7,1239.8 L1113.7,1242.8 L1115.7,1245.7 L1117.7,1248.6 L1119.7,1251.5 L1121.7,1254.3 L1123.7,1257.1 L1125.7,1259.8 L1127.7,1262.5 L1129.7,1265.1 L1131.7,1267.7 L1133.7,1270.2 L1135.7,1272.7 L1137.7,1275.2 L1139.7,1277.6 L1141.7,1279.9 L1143.7,1282.3 L1145.7,1284.5 L1147.7,1286.8 L1149.7,1289.0 L1151.7,1291.1 L1153.7,1293.3 L1155.7,1295.3 L1157.7,1297.4 L1159.7,1299.3 L1161.7,1301.3 L1163.7,1303.2 L1165.7,1305.1 L1167.7,1306.9 L1169.7,1308.7 L1171.7,1310.4 L1173.7,1312.1 L1175.7,1313.8 L1177.7,1315.4 L1179.7,1317.0 L1181.7,1318.6 L1183.7,1320.1 L1185.7,1321.6 L1187.7,1323.0 L1189.7,1324.4 L1191.7,1325.8 L1193.7,1327.1 L1195.7,1328.4 L1197.7,1329.7 L1199.7,1330.9 L1201.7,1332.1 L1203.7,1333.3 L1205.7,1334.4 L1207.7,1335.5 L1209.7,1336.6 L1211.7,1337.7 L1213.7,1338.7 L1215.7,1339.6 L1217.7,1340.6 L1219.7,1341.5 L1221.7,1342.4 L1223.7,1343.2 L1225.7,1344.1 L1227.7,1344.9 L1229.7,1345.6 L1231.7,1346.4 L1233.7,1347.1 L1235.7,1347.8 L1237.7,1348.5 L1239.7,1349.1 L1241.7,1349.7 L1243.7,1350.3 L1245.7,1350.9 L1247.7,1351.4 L1249.7,1351.9 L1251.7,1352.4 L1253.7,1352.9 L1255.7,1353.3 L1257.7,1353.7 L1259.7,1354.2 L1261.7,1354.5 L1263.7,1354.9 L1265.7,1355.2 L1267.7,1355.6 L1269.7,1355.9 L1271.7,1356.1 L1273.7,1356.4 L1275.7,1356.6 L1277.7,1356.9 L1279.7,1357.1 L1281.7,1357.3 L1283.7,1357.4 L1285.7,1357.6 L1287.7,1357.7 L1289.7,1357.8 L1291.7,1358.0 L1293.7,1358.1 L1295.7,1358.1 L1297.7,1358.2 L1299.7,1358.2 L1301.7,1358.3 L1303.7,1358.3 L1305.7,1358.3 L1307.7,1358.3 L1309.7,1358.3 L1311.7,1358.3 L1313.7,1358.3 L1315.7,1358.2 L1317.7,1358.2 L1319.7,1358.1 L1321.7,1358.0 L1323.7,1358.0 L1325.7,1357.9 L1327.7,1357.8 L1329.7,1357.7 L1331.7,1357.6 L1333.7,1357.4 L1335.7,1357.3 L1337.7,1357.2 L1339.7,1357.1 L1341.7,1356.9 L1343.7,1356.8 L1345.7,1356.6 L1347.7,1356.5 L1349.7,1356.3 L1351.7,1356.1 L1353.7,1356.0 L1355.7,1355.8 L1357.7,1355.7 L1359.7,1355.5 L1361.7,1355.3 L1363.7,1355.1 L1365.7,1355.0 L1367.7,1354.8 L1369.7,1354.6 L1371.7,1354.5 L1373.7,1354.3 L1375.7,1354.1 L1377.7,1354.0 L1379.7,1353.8 L1381.7,1353.7 L1383.7,1353.5 L1385.7,1353.4 L1387.7,1353.2 L1389.7,1353.1 L1391.7,1352.9 L1393.7,1352.8 L1395.7,1352.6 L1397.7,1352.5 L1399.7,1352.3 L1401.7,1352.2 L1403.7,1352.1 L1405.7,1351.9 L1407.7,1351.8 L1409.7,1351.7 L1411.7,1351.6 L1413.7,1351.4 L1415.7,1351.3 L1417.7,1351.2 L1419.7,1351.1 L1421.7,1351.0 L1423.7,1350.8 L1425.7,1350.7 L1427.7,1350.6 L1429.7,1350.5 L1431.7,1350.4 L1433.7,1350.3 L1435.7,1350.1 L1437.7,1350.0 L1439.7,1349.9 L1441.7,1349.8 L1443.7,1349.7 L1445.7,1349.6 L1447.7,1349.5 L1449.7,1349.4 L1451.7,1349.2 L1453.7,1349.1 L1455.7,1349.0 L1457.7,1348.9 L1459.7,1348.8 L1461.7,1348.7 L1463.7,1348.6 L1465.7,1348.5 L1467.7,1348.4 L1469.7,1348.3 L1471.7,1348.1 L1473.7,1348.0 L1475.7,1347.9 L1477.7,1347.8 L1479.7,1347.7 L1481.7,1347.6 L1483.7,1347.4 L1485.7,1347.3 L1487.7,1347.2 L1489.7,1347.1 L1491.7,1346.9 L1493.7,1346.8 L1495.7,1346.7 L1497.7,1346.5 L1499.7,1346.4 L1501.7,1346.2 L1503.7,1346.1 L1505.7,1345.9 L1507.7,1345.7 L1509.7,1345.5 L1511.7,1345.4 L1513.7,1345.2 L1515.7,1345.0 L1517.7,1344.8 L1519.7,1344.6 L1521.7,1344.4 L1523.7,1344.2 L1525.7,1344.0 L1527.7,1343.8 L1529.7,1343.6 L1531.7,1343.4 L1533.7,1343.2 L1535.7,1343.0 L1537.7,1342.8 L1539.7,1342.6 L1541.7,1342.4 L1543.7,1342.2 L1545.7,1342.0 L1547.7,1341.8 L1549.7,1341.6 L1551.7,1341.4 L1553.7,1341.2 L1555.7,1341.0 L1557.7,1340.8 L1559.7,1340.6 L1561.7,1340.4 L1563.7,1340.3 L1565.7,1340.1 L1567.7,1339.9 L1569.7,1339.7 L1571.7,1339.5 L1573.7,1339.3 L1575.7,1339.2 L1577.7,1339.0 L1579.7,1338.8 L1581.7,1338.6 L1583.7,1338.4 L1585.7,1338.2 L1587.7,1338.0 L1589.7,1337.8 L1591.7,1337.6 L1593.7,1337.4 L1595.7,1337.2 L1597.7,1337.0 L1599.7,1336.7 L1601.7,1336.5 L1603.7,1336.3 L1605.7,1336.0 L1607.5,1335.8 L1615.5,1330.9 L1623.5,1329.9 L1631.5,1329.0 L1639.5,1328.0 L1647.5,1327.1 L1655.5,1326.1 L1663.5,1325.2 L1671.5,1324.2 L1679.5,1323.3 L1687.5,1322.3 L1695.5,1321.4 L1703.5,1320.4 L1711.5,1319.5 L1719.5,1318.5 L1727.5,1317.6 L1735.5,1316.6 L1743.5,1315.7 L1751.5,1314.7 L1759.5,1313.8 L1767.5,1312.8 L1775.5,1311.9 L1783.5,1310.9 L1791.5,1310.0 L1799.5,1309.1 L1807.5,1308.1 L1815.5,1307.2 L1823.5,1306.2 L1831.5,1305.3 L1839.5,1304.3 L1847.5,1303.4 L1855.5,1302.4 L1863.5,1301.5 L1871.5,1300.5 L1879.5,1299.6 L1887.5,1298.6 L1895.5,1297.7 L1903.5,1296.8 L1911.5,1295.8 L1919.5,1294.9 L1927.5,1293.9 L1935.5,1293.0 L1943.5,1292.0 L1951.5,1291.1 L1959.5,1290.1 L1967.5,1289.2"/>
<path stroke="#999900" d="M309.7,655.4 L311.7,651.0 L313.7,646.8 L315.7,642.9 L317.7,639.3 L319.7,635.8 L321.7,632.3 L323.7,629.3 L325.7,626.8 L327.7,624.9 L329.7,623.4 L331.7,622.1 L333.7,620.9 L335.7,619.8 L337.7,618.5 L339.7,617.2 L341.7,615.7 L343.7,614.1 L345.7,612.5 L347.7,610.9 L349.7,609.4 L351.7,607.8 L353.7,606.3 L355.7,604.6 L357.7,602.9 L359.7,601.4 L361.7,599.9 L363.7,598.8 L365.7,598.0 L367.7,597.3 L369.7,596.8 L371.7,596.3 L373.7,595.9 L375.7,595.5 L377.7,595.0 L379.7,594.5 L381.7,593.9 L383.7,593.4 L385.7,592.9 L387.7,592.4 L389.7,591.9 L391.7,591.3 L393.7,590.6 L395.7,589.8 L397.7,588.9 L399.7,587.6 L401.7,585.9 L403.7,584.2 L405.7,582.7 L407.7,581.6 L409.7,580.9 L411.7,580.3 L413.7,579.8 L415.7,579.3 L417.7,578.8 L419.7,578.2 L421.7,577.5 L423.7,576.6 L425.7,575.6 L427.7,574.6 L429.7,573.5 L431.7,572.4 L433.7,571.3 L435.7,570.4 L437.7,569.4 L439.7,568.6 L441.7,567.7 L443.7,566.9 L445.7,566.0 L447.7,565.0 L449.7,564.0 L451.7,562.9 L453.7,561.7 L455.7,560.4 L457.7,559.0 L459.7,557.6 L461.7,556.1 L463.7,554.3 L465.7,552.5 L467.7,550.6 L469.7,548.7 L471.7,547.0 L473.7,545.4 L475.7,543.9 L477.7,542.5 L479.7,541.0 L481.7,539.7 L483.7,538.3 L485.7,537.0 L487.7,535.6 L489.7,534.3 L491.7,533.0 L493.7,531.8 L495.7,530.5 L497.7,529.3 L499.7,528.1 L501.7,526.9 L503.7,525.7 L505.7,524.4 L507.7,523.2 L509.7,522.0 L511.7,520.7 L513.7,519.5 L515.7,518.3 L517.7,517.1 L519.7,515.9 L521.7,514.7 L523.7,513.6 L525.7,512.5 L527.7,511.4 L529.7,510.4 L531.7,509.3 L533.7,508.3 L535.7,507.3 L537.7,506.4 L539.7,505.4 L541.7,504.4 L543.7,503.5 L545.7,502.5 L547.7,501.6 L549.7,500.6 L551.7,499.7 L553.7,498.8 L555.7,497.9 L557.7,497.1 L559.7,496.2 L561.7,495.3 L563.7,494.4 L565.7,493.5 L567.7,492.6 L569.7,491.7 L571.7,490.7 L573.7,489.8 L575.7,488.9 L577.7,487.9 L579.7,487.0 L581.7,486.0 L583.7,485.1 L585.7,484.2 L587.7,483.2 L589.7,482.3 L591.7,481.3 L593.7,480.3 L595.7,479.3 L597.7,478.2 L599.7,477.2 L601.7,476.2 L603.7,475.2 L605.7,474.3 L607.7,473.4 L609.7,472.6 L611.7,471.8 L613.7,471.1 L615.7,470.3 L617.7,469.6 L619.7,468.9 L621.7,468.3 L623.7,467.6 L625.7,467.0 L627.7,466.5 L629.7,466.0 L631.7,465.5 L633.7,465.0 L635.7,464.6 L637.7,464.2 L639.7,463.8 L641.7,463.4 L643.7,463.1 L645.7,462.7 L647.7,462.4 L649.7,462.1 L651.7,461.8 L653.7,461.5 L655.7,461.2 L657.7,460.9 L659.7,460.5 L661.7,460.2 L663.7,459.9 L665.7,459.7 L667.7,459.5 L669.7,459.5 L671.7,459.5 L673.7,459.5 L675.7,459.6 L677.7,459.8 L679.7,460.0 L681.7,460.2 L683.7,460.4 L685.7,460.7 L687.7,461.0 L689.7,461.3 L691.7,461.6 L693.7,462.0 L695.7,462.5 L697.7,463.1 L699.7,463.6 L701.7,464.2 L703.7,464.7 L705.7,465.3 L707.7,465.8 L709.7,466.3 L711.7,466.9 L713.7,467.5 L715.7,468.1 L717.7,468.7 L719.7,469.3 L721.7,470.0 L723.7,470.7 L725.7,471.4 L727.7,472.2 L729.7,473.0 L731.7,473.8 L733.7,474.7 L735.7,475.6 L737.7,476.6 L739.7,477.5 L741.7,478.6 L743.7,479.6 L745.7,480.7 L747.7,481.9 L749.7,483.1 L751.7,484.4 L753.7,485.7 L755.7,487.0 L757.7,488.4 L759.7,489.8 L761.7,491.3 L763.7,492.9 L765.7,494.4 L767.7,496.1 L769.7,497.7 L771.7,499.4 L773.7,501.2 L775.7,503.0 L777.7,504.9 L779.7,506.8 L781.7,508.8 L783.7,510.8 L785.7,512.8 L787.7,514.9 L789.7,517.0 L791.7,519.2 L793.7,521.5 L795.7,523.8 L797.7,526.1 L799.7,528.5 L801.7,530.9 L803.7,533.4 L805.7,535.9 L807.7,538.5 L809.7,541.1 L811.7,543.8 L813.7,546.5 L815.7,549.2 L817.7,552.0 L819.7,554.9 L821.7,557.8 L823.7,560.8 L825.7,563.8 L827.7,566.8 L829.7,569.9 L831.7,573.1 L833.7,576.3 L835.7,579.5 L837.7,582.8 L839.7,586.1 L841.7,589.5 L843.7,593.0 L845.7,596.5 L847.7,600.0 L849.7,603.6 L851.7,607.2 L853.7,610.9 L855.7,614.7 L857.7,618.4 L859.7,622.3 L861.7,626.2 L863.7,630.1 L865.7,634.1 L867.7,638.1 L869.7,642.2 L871.7,646.3 L873.7,650.5 L875.7,654.7 L877.7,659.0 L879.7,663.3 L881.7,667.7 L883.7,672.1 L885.7,676.6 L887.7,681.2 L889.7,685.7 L891.7,690.4 L893.7,695.0 L895.7,699.8 L897.7,704.6 L899.7,709.4 L901.7,714.3 L903.7,719.2 L905.7,724.2 L907.7,729.2 L909.7,734.3 L911.7,739.4 L913.7,744.6 L915.7,749.9 L917.7,755.2 L919.7,760.5 L921.7,765.9 L923.7,771.3 L925.7,776.8 L927.7,782.3 L929.7,787.9 L931.7,793.5 L933.7,799.1 L935.7,804.8 L937.7,810.5 L939.7,816.2 L941.7,822.0 L943.7,827.8 L945.7,833.6 L947.7,839.5 L949.7,845.3 L951.7,851.2 L953.7,857.1 L955.7,863.1 L957.7,869.0 L959.7,875.0 L961.7,881.0 L963.7,887.0 L965.7,893.0 L967.7,899.0 L969.7,905.0 L971.7,911.0 L973.7,917.1 L975.7,923.1 L977.7,929.1 L979.7,935.2 L981.7,941.2 L983.7,947.2 L985.7,953.2 L987.7,959.2 L989.7,965.2 L991.7,971.2 L993.7,977.2 L995.7,983.1 L997.7,989.1 L999.7,995.0 L1001.7,1000.9 L1003.7,1006.8 L1005.7,1012.6 L1007.7,1018.5 L1009.7,1024.3 L1011.7,1030.1 L1013.7,1035.8 L1015.7,1041.6 L1017.7,1047.3 L1019.7,1052.9 L1021.7,1058.6 L1023.7,1064.2 L1025.7,1069.8 L1027.7,1075.4 L1029.7,1080.9 L1031.7,1086.4 L1033.7,1091.8 L1035.7,1097.3 L1037.7,1102.6 L1039.7,1108.0 L1041.7,1113.3 L1043.7,1118.6 L1045.7,1123.9 L1047.7,1129.1 L1049.7,1134.2 L1051.7,1139.4 L1053.7,1144.4 L1055.7,1149.5 L1057.7,1154.5 L1059.7,1159.4 L1061.7,1164.4 L1063.7,1169.2 L1065.7,1174.1 L1067.7,1178.8 L1069.7,1183.6 L1071.7,1188.2 L1073.7,1192.9 L1075.7,1197.5 L1077.7,1202.0 L1079.7,1206.5 L1081.7,1210.9 L1083.7,1215.3 L1085.7,1219.6 L1087.7,1223.9 L1089.7,1228.1 L1091.7,1232.3 L1093.7,1236.4 L1095.7,1240.5 L1097.7,1244.4 L1099.7,1248.4 L1101.7,1252.3 L1103.7,1256.1 L1105.7,1259.8 L1107.7,1263.5 L1109.7,1267.2 L1111.7,1270.8 L1113.7,1274.3 L1115.7,1277.7 L1117.7,1281.1 L1119.7,1284.5 L1121.7,1287.8 L1123.7,1291.0 L1125.7,1294.2 L1127.7,1297.3 L1129.7,1300.4 L1131.7,1303.4 L1133.7,1306.3 L1135.7,1309.2 L1137.7,1312.1 L1139.7,1314.9 L1141.7,1317.6 L1143.7,1320.3 L1145.7,1322.9 L1147.7,1325.4 L1149.7,1327.9 L1151.7,1330.4 L1153.7,1332.8 L1155.7,1335.1 L1157.7,1337.4 L1159.7,1339.7 L1161.7,1341.9 L1163.7,1344.0 L1165.7,1346.1 L1167.7,1348.1 L1169.7,1350.1 L1171.7,1352.0 L1173.7,1353.9 L1175.7,1355.7 L1177.7,1357.5 L1179.7,1359.2 L1181.7,1360.8 L1183.7,1362.5 L1185.7,1364.0 L1187.7,1365.6 L1189.7,1367.0 L1191.7,1368.5 L1193.7,1369.9 L1195.7,1371.2 L1197.7,1372.5 L1199.7,1373.8 L1201.7,1375.1 L1203.7,1376.3 L1205.7,1377.5 L1207.7,1378.6 L1209.7,1379.7 L1211.7,1380.8 L1213.7,1381.9 L1215.7,1382.9 L1217.7,1383.9 L1219.7,1384.9 L1221.7,1385.9 L1223.7,1386.9 L1225.7,1387.8 L1227.7,1388.7 L1229.7,1389.6 L1231.7,1390.5 L1233.7,1391.3 L1235.7,1392.1 L1237.7,1393.0 L1239.7,1393.7 L1241.7,1394.5 L1243.7,1395.3 L1245.7,1396.0 L1247.7,1396.7 L1249.7,1397.4 L1251.7,1398.1 L1253.7,1398.8 L1255.7,1399.4 L1257.7,1400.1 L1259.7,1400.7 L1261.7,1401.3 L1263.7,1401.9 L1265.7,1402.4 L1267.7,1403.0 L1269.7,1403.5 L1271.7,1404.0 L1273.7,1404.6 L1275.7,1405.0 L1277.7,1405.5 L1279.7,1406.0 L1281.7,1406.4 L1283.7,1406.9 L1285.7,1407.3 L1287.7,1407.7 L1289.7,1408.1 L1291.7,1408.4 L1293.7,1408.8 L1295.7,1409.2 L1297.7,1409.5 L1299.7,1409.8 L1301.7,1410.1 L1303.7,1410.4 L1305.7,1410.7 L1307.7,1411.0 L1309.7,1411.3 L1311.7,1411.5 L1313.7,1411.8 L1315.7,1412.0 L1317.7,1412.2 L1319.7,1412.4 L1321.7,1412.6 L1323.7,1412.8 L1325.7,1413.0 L1327.7,1413.2 L1329.7,1413.4 L1331.7,1413.5 L1333.7,1413.7 L1335.7,1413.8 L1337.7,1413.9 L1339.7,1414.0 L1341.7,1414.1 L1343.7,1414.3 L1345.7,1414.3 L1347.7,1414.4 L1349.7,1414.5 L1351.7,1414.6 L1353.7,1414.7 L1355.7,1414.7 L1357.7,1414.8 L1359.7,1414.8 L1361.7,1414.9 L1363.7,1414.9 L1365.7,1414.9 L1367.7,1415.0 L1369.7,1415.0 L1371.7,1415.0 L1373.7,1415.0 L1375.7,1415.0 L1377.7,1415.0 L1379.7,1415.0 L1381.7,1415.0 L1383.7,1415.0 L1385.7,1415.0 L1387.7,1415.0 L1389.7,1414.9 L1391.7,1414.9 L1393.7,1414.9 L1395.7,1414.9 L1397.7,1414.8 L1399.7,1414.8 L1401.7,1414.8 L1403.7,1414.7 L1405.7,1414.7 L1407.7,1414.7 L1409.7,1414.6 L1411.7,1414.6 L1413.7,1414.6 L1415.7,1414.6 L1417.7,1414.6 L1419.7,1414.6 L1421.7,1414.6 L1423.7,1414.6 L1425.7,1414.6 L1427.7,1414.6 L1429.7,1414.6 L1431.7,1414.6 L1433.7,1414.7 L1435.7,1414.7 L1437.7,1414.7 L1439.7,1414.7 L1441.7,1414.8 L1443.7,1414.8 L1445.7,1414.8 L1447.7,1414.8 L1449.7,1414.9 L1451.7,1414.9 L1453.7,1414.9 L1455.7,1415.0 L1457.7,1415.0 L1459.7,1415.0 L1461.7,1415.1 L1463.7,1415.1 L1465.7,1415.2 L1467.7,1415.2 L1469.7,1415.3 L1471.7,1415.3 L1473.7,1415.4 L1475.7,1415.4 L1477.7,1415.5 L1479.7,1415.5 L1481.7,1415.6 L1483.7,1415.6 L1485.7,1415.7 L1487.7,1415.7 L1489.7,1415.7 L1491.7,1415.8 L1493.7,1415.8 L1495.7,1415.8 L1497.7,1415.8 L1499.7,1415.8 L1501.7,1415.8 L1503.7,1415.7 L1505.7,1415.7 L1507.7,1415.7 L1509.7,1415.7 L1511.7,1415.7 L1513.7,1415.6 L1515.7,1415.6 L1517.7,1415.6 L1519.7,1415.6 L1521.7,1415.6 L1523.7,1415.5 L1525.7,1415.5 L1527.7,1415.5 L1529.7,1415.5 L1531.7,1415.4 L1533.7,1415.4 L1535.7,1415.4 L1537.7,1415.4 L1539.7,1415.4 L1541.7,1415.4 L1543.7,1415.4 L1545.7,1415.4 L1547.7,1415.4 L1549.7,1415.4 L1551.7,1415.4 L1553.7,1415.4 L1555.7,1415.4 L1557.7,1415.4 L1559.7,1415.4 L1561.7,1415.4 L1563.7,1415.4 L1565.7,1415.4 L1567.7,1415.4 L1569.7,1415.4 L1571.7,1415.4 L1573.7,1415.4 L1575.7,1415.4 L1577.7,1415.4 L1579.7,1415.4 L1581.7,1415.4 L1583.7,1415.3 L1585.7,1415.3 L1587.7,1415.2 L1589.7,1415.1 L1591.7,1415.0 L1593.7,1414.9 L1595.7,1414.9 L1597.7,1414.8 L1599.7,1414.8 L1601.7,1414.8 L1603.7,1414.8 L1605.7,1414.8 L1607.5,1414.8 L1615.5,1410.0 L1623.5,1409.7 L1631.5,1409.5 L1639.5,1409.2 L1647.5,1409.0 L1655.5,1408.7 L1663.5,1408.5 L1671.5,1408.2 L1679.5,1408.0 L1687.5,1407.7 L1695.5,1407.4 L1703.5,1407.2 L1711.5,1406.9 L1719.5,1406.7 L1727.5,1406.4 L1735.5,1406.2 L1743.5,1405.9 L1751.5,1405.7 L1759.5,1405.4 L1767.5,1405.2 L1775.5,1404.9 L1783.5,1404.7 L1791.5,1404.4 L1799.5,1404.1 L1807.5,1403.9 L1815.5,1403.6 L1823.5,1403.4 L1831.5,1403.1 L1839.5,1402.9 L1847.5,1402.6 L1855.5,1402.4 L1863.5,1402.1 L1871.5,1401.9 L1879.5,1401.6 L1887.5,1401.4 L1895.5,1401.1 L1903.5,1400.9 L1911.5,1400.6 L1919.5,1400.4 L1927.5,1400.1 L1935.5,1399.9 L1943.5,1399.6 L1951.5,1399.4 L1959.5,1399.1 L1967.5,1398.9"/>
<path stroke="#009900" d="M309.7,760.6 L311.7,756.6 L313.7,752.8 L315.7,749.3 L317.7,746.2 L319.7,743.5 L321.7,740.9 L323.7,738.6 L325.7,736.4 L327.7,734.1 L329.7,731.8 L331.7,729.4 L333.7,726.9 L335.7,724.6 L337.7,722.7 L339.7,721.1 L341.7,719.9 L343.7,718.9 L345.7,718.0 L347.7,717.1 L349.7,716.3 L351.7,715.3 L353.7,714.3 L355.7,712.9 L357.7,711.2 L359.7,709.4 L361.7,707.6 L363.7,706.0 L365.7,704.8 L367.7,704.2 L369.7,703.8 L371.7,703.6 L373.7,703.3 L375.7,703.1 L377.7,702.9 L379.7,702.7 L381.7,702.3 L383.7,701.7 L385.7,700.9 L387.7,699.9 L389.7,698.7 L391.7,697.5 L393.7,696.3 L395.7,695.2 L397.7,694.2 L399.7,693.5 L401.7,692.8 L403.7,692.3 L405.7,691.8 L407.7,691.3 L409.7,690.8 L411.7,690.3 L413.7,689.8 L415.7,689.2 L417.7,688.6 L419.7,687.8 L421.7,686.8 L423.7,685.7 L425.7,684.6 L427.7,683.6 L429.7,682.6 L431.7,681.6 L433.7,680.6 L435.7,679.5 L437.7,678.5 L439.7,677.5 L441.7,676.5 L443.7,675.5 L445.7,674.6 L447.7,673.6 L449.7,672.7 L451.7,671.9 L453.7,671.1 L455.7,670.3 L457.7,669.5 L459.7,668.7 L461.7,667.8 L463.7,666.8 L465.7,665.6 L467.7,664.2 L469.7,662.6 L471.7,660.9 L473.7,659.1 L475.7,657.5 L477.7,656.0 L479.7,654.6 L481.7,653.4 L483.7,652.6 L485.7,652.1 L487.7,651.6 L489.7,651.3 L491.7,650.8 L493.7,650.3 L495.7,649.7 L497.7,648.8 L499.7,647.8 L501.7,646.6 L503.7,645.4 L505.7,644.1 L507.7,642.8 L509.7,641.6 L511.7,640.6 L513.7,639.6 L515.7,638.7 L517.7,637.8 L519.7,636.9 L521.7,636.1 L523.7,635.3 L525.7,634.5 L527.7,633.7 L529.7,633.0 L531.7,632.2 L533.7,631.4 L535.7,630.7 L537.7,630.0 L539.7,629.2 L541.7,628.6 L543.7,627.9 L545.7,627.2 L547.7,626.6 L549.7,625.9 L551.7,625.2 L553.7,624.5 L555.7,623.7 L557.7,623.0 L559.7,622.1 L561.7,621.2 L563.7,620.2 L565.7,619.3 L567.7,618.3 L569.7,617.3 L571.7,616.3 L573.7,615.3 L575.7,614.4 L577.7,613.6 L579.7,612.8 L581.7,612.0 L583.7,611.2 L585.7,610.4 L587.7,609.7 L589.7,608.9 L591.7,608.2 L593.7,607.6 L595.7,606.9 L597.7,606.4 L599.7,605.8 L601.7,605.3 L603.7,604.8 L605.7,604.4 L607.7,603.9 L609.7,603.5 L611.7,603.1 L613.7,602.7 L615.7,602.4 L617.7,602.0 L619.7,601.7 L621.7,601.4 L623.7,601.2 L625.7,600.9 L627.7,600.7 L629.7,600.4 L631.7,600.2 L633.7,600.0 L635.7,599.8 L637.7,599.7 L639.7,599.5 L641.7,599.4 L643.7,599.3 L645.7,599.3 L647.7,599.2 L649.7,599.1 L651.7,599.1 L653.7,599.1 L655.7,599.0 L657.7,599.1 L659.7,599.1 L661.7,599.3 L663.7,599.4 L665.7,599.6 L667.7,599.9 L669.7,600.1 L671.7,600.4 L673.7,600.7 L675.7,601.0 L677.7,601.4 L679.7,601.9 L681.7,602.4 L683.7,602.9 L685.7,603.5 L687.7,604.0 L689.7,604.6 L691.7,605.2 L693.7,605.8 L695.7,606.4 L697.7,607.0 L699.7,607.6 L701.7,608.2 L703.7,608.9 L705.7,609.6 L707.7,610.3 L709.7,611.1 L711.7,611.9 L713.7,612.7 L715.7,613.6 L717.7,614.5 L719.7,615.5 L721.7,616.5 L723.7,617.5 L725.7,618.6 L727.7,619.7 L729.7,620.8 L731.7,622.0 L733.7,623.2 L735.7,624.4 L737.7,625.7 L739.7,627.0 L741.7,628.4 L743.7,629.7 L745.7,631.2 L747.7,632.7 L749.7,634.2 L751.7,635.7 L753.7,637.3 L755.7,639.0 L757.7,640.6 L759.7,642.4 L761.7,644.1 L763.7,645.9 L765.7,647.8 L767.7,649.7 L769.7,651.6 L771.7,653.6 L773.7,655.6 L775.7,657.7 L777.7,659.8 L779.7,662.0 L781.7,664.2 L783.7,666.4 L785.7,668.7 L787.7,671.1 L789.7,673.5 L791.7,676.0 L793.7,678.5 L795.7,681.0 L797.7,683.6 L799.7,686.3 L801.7,689.0 L803.7,691.7 L805.7,694.5 L807.7,697.4 L809.7,700.3 L811.7,703.2 L813.7,706.3 L815.7,709.3 L817.7,712.5 L819.7,715.6 L821.7,718.9 L823.7,722.2 L825.7,725.5 L827.7,728.9 L829.7,732.4 L831.7,735.9 L833.7,739.5 L835.7,743.1 L837.7,746.8 L839.7,750.5 L841.7,754.3 L843.7,758.2 L845.7,762.1 L847.7,766.1 L849.7,770.2 L851.7,774.3 L853.7,778.4 L855.7,782.7 L857.7,787.0 L859.7,791.3 L861.7,795.7 L863.7,800.2 L865.7,804.8 L867.7,809.4 L869.7,814.0 L871.7,818.8 L873.7,823.5 L875.7,828.3 L877.7,833.2 L879.7,838.1 L881.7,843.1 L883.7,848.1 L885.7,853.2 L887.7,858.3 L889.7,863.4 L891.7,868.6 L893.7,873.8 L895.7,879.1 L897.7,884.4 L899.7,889.7 L901.7,895.0 L903.7,900.4 L905.7,905.8 L907.7,911.3 L909.7,916.7 L911.7,922.2 L913.7,927.7 L915.7,933.2 L917.7,938.7 L919.7,944.3 L921.7,949.9 L923.7,955.4 L925.7,961.0 L927.7,966.6 L929.7,972.2 L931.7,977.8 L933.7,983.5 L935.7,989.1 L937.7,994.7 L939.7,1000.3 L941.7,1005.9 L943.7,1011.5 L945.7,1017.1 L947.7,1022.7 L949.7,1028.3 L951.7,1033.9 L953.7,1039.4 L955.7,1045.0 L957.7,1050.5 L959.7,1056.0 L961.7,1061.5 L963.7,1067.0 L965.7,1072.4 L967.7,1077.9 L969.7,1083.3 L971.7,1088.6 L973.7,1094.0 L975.7,1099.3 L977.7,1104.6 L979.7,1109.8 L981.7,1115.1 L983.7,1120.3 L985.7,1125.5 L987.7,1130.6 L989.7,1135.7 L991.7,1140.8 L993.7,1145.9 L995.7,1150.9 L997.7,1155.9 L999.7,1160.9 L1001.7,1165.8 L1003.7,1170.7 L1005.7,1175.6 L1007.7,1180.5 L1009.7,1185.3 L1011.7,1190.1 L1013.7,1194.8 L1015.7,1199.6 L1017.7,1204.3 L1019.7,1208.9 L1021.7,1213.6 L1023.7,1218.2 L1025.7,1222.7 L1027.7,1227.2 L1029.7,1231.7 L1031.7,1236.2 L1033.7,1240.6 L1035.7,1245.0 L1037.7,1249.4 L1039.7,1253.7 L1041.7,1258.0 L1043.7,1262.3 L1045.7,1266.5 L1047.7,1270.7 L1049.7,1274.8 L1051.7,1279.0 L1053.7,1283.0 L1055.7,1287.1 L1057.7,1291.1 L1059.7,1295.1 L1061.7,1299.0 L1063.7,1302.9 L1065.7,1306.8 L1067.7,1310.6 L1069.7,1314.4 L1071.7,1318.1 L1073.7,1321.8 L1075.7,1325.5 L1077.7,1329.2 L1079.7,1332.7 L1081.7,1336.3 L1083.7,1339.8 L1085.7,1343.3 L1087.7,1346.7 L1089.7,1350.1 L1091.7,1353.5 L1093.7,1356.8 L1095.7,1360.1 L1097.7,1363.3 L1099.7,1366.5 L1101.7,1369.7 L1103.7,1372.8 L1105.7,1375.9 L1107.7,1378.9 L1109.7,1381.9 L1111.7,1384.8 L1113.7,1387.7 L1115.7,1390.6 L1117.7,1393.4 L1119.7,1396.2 L1121.7,1398.9 L1123.7,1401.6 L1125.7,1404.3 L1127.7,1406.9 L1129.7,1409.4 L1131.7,1411.9 L1133.7,1414.4 L1135.7,1416.8 L1137.7,1419.2 L1139.7,1421.5 L1141.7,1423.8 L1143.7,1426.1 L1145.7,1428.3 L1147.7,1430.4 L1149.7,1432.5 L1151.7,1434.6 L1153.7,1436.6 L1155.7,1438.5 L1157.7,1440.5 L1159.7,1442.3 L1161.7,1444.1 L1163.7,1445.9 L1165.7,1447.6 L1167.7,1449.3 L1169.7,1451.0 L1171.7,1452.6 L1173.7,1454.1 L1175.7,1455.6 L1177.7,1457.1 L1179.7,1458.5 L1181.7,1459.9 L1183.7,1461.3 L1185.7,1462.6 L1187.7,1463.8 L1189.7,1465.1 L1191.7,1466.3 L1193.7,1467.4 L1195.7,1468.6 L1197.7,1469.6 L1199.7,1470.7 L1201.7,1471.7 L1203.7,1472.7 L1205.7,1473.7 L1207.7,1474.6 L1209.7,1475.5 L1211.7,1476.3 L1213.7,1477.2 L1215.7,1478.0 L1217.7,1478.7 L1219.7,1479.5 L1221.7,1480.2 L1223.7,1480.9 L1225.7,1481.5 L1227.7,1482.2 L1229.7,1482.8 L1231.7,1483.4 L1233.7,1483.9 L1235.7,1484.5 L1237.7,1485.0 L1239.7,1485.5 L1241.7,1486.0 L1243.7,1486.4 L1245.7,1486.9 L1247.7,1487.3 L1249.7,1487.7 L1251.7,1488.1 L1253.7,1488.4 L1255.7,1488.8 L1257.7,1489.1 L1259.7,1489.4 L1261.7,1489.7 L1263.7,1490.0 L1265.7,1490.3 L1267.7,1490.5 L1269.7,1490.8 L1271.7,1491.0 L1273.7,1491.2 L1275.7,1491.5 L1277.7,1491.7 L1279.7,1491.9 L1281.7,1492.1 L1283.7,1492.2 L1285.7,1492.4 L1287.7,1492.6 L1289.7,1492.7 L1291.7,1492.9 L1293.7,1493.1 L1295.7,1493.2 L1297.7,1493.4 L1299.7,1493.5 L1301.7,1493.7 L1303.7,1493.8 L1305.7,1493.9 L1307.7,1494.1 L1309.7,1494.2 L1311.7,1494.4 L1313.7,1494.5 L1315.7,1494.6 L1317.7,1494.8 L1319.7,1494.9 L1321.7,1495.1 L1323.7,1495.2 L1325.7,1495.3 L1327.7,1495.5 L1329.7,1495.6 L1331.7,1495.7 L1333.7,1495.9 L1335.7,1496.0 L1337.7,1496.1 L1339.7,1496.2 L1341.7,1496.4 L1343.7,1496.5 L1345.7,1496.6 L1347.7,1496.8 L1349.7,1496.9 L1351.7,1497.0 L1353.7,1497.1 L1355.7,1497.2 L1357.7,1497.4 L1359.7,1497.5 L1361.7,1497.6 L1363.7,1497.7 L1365.7,1497.8 L1367.7,1497.9 L1369.7,1498.0 L1371.7,1498.1 L1373.7,1498.2 L1375.7,1498.4 L1377.7,1498.5 L1379.7,1498.6 L1381.7,1498.7 L1383.7,1498.8 L1385.7,1498.9 L1387.7,1499.0 L1389.7,1499.0 L1391.7,1499.1 L1393.7,1499.2 L1395.7,1499.3 L1397.7,1499.4 L1399.7,1499.5 L1401.7,1499.6 L1403.7,1499.7 L1405.7,1499.7 L1407.7,1499.8 L1409.7,1499.9 L1411.7,1499.9 L1413.7,1500.0 L1415.7,1500.1 L1417.7,1500.1 L1419.7,1500.2 L1421.7,1500.2 L1423.7,1500.3 L1425.7,1500.3 L1427.7,1500.4 L1429.7,1500.4 L1431.7,1500.5 L1433.7,1500.5 L1435.7,1500.5 L1437.7,1500.5 L1439.7,1500.6 L1441.7,1500.6 L1443.7,1500.6 L1445.7,1500.6 L1447.7,1500.6 L1449.7,1500.6 L1451.7,1500.6 L1453.7,1500.6 L1455.7,1500.6 L1457.7,1500.6 L1459.7,1500.6 L1461.7,1500.6 L1463.7,1500.6 L1465.7,1500.6 L1467.7,1500.7 L1469.7,1500.7 L1471.7,1500.7 L1473.7,1500.7 L1475.7,1500.7 L1477.7,1500.7 L1479.7,1500.7 L1481.7,1500.8 L1483.7,1500.8 L1485.7,1500.8 L1487.7,1500.8 L1489.7,1500.8 L1491.7,1500.8 L1493.7,1500.8 L1495.7,1500.8 L1497.7,1500.8 L1499.7,1500.8 L1501.7,1500.8 L1503.7,1500.8 L1505.7,1500.8 L1507.7,1500.8 L1509.7,1500.8 L1511.7,1500.8 L1513.7,1500.8 L1515.7,1500.8 L1517.7,1500.8 L1519.7,1500.8 L1521.7,1500.8 L1523.7,1500.9 L1525.7,1500.9 L1527.7,1501.0 L1529.7,1501.0 L1531.7,1501.1 L1533.7,1501.2 L1535.7,1501.2 L1537.7,1501.3 L1539.7,1501.3 L1541.7,1501.3 L1543.7,1501.3 L1545.7,1501.3 L1547.7,1501.3 L1549.7,1501.3 L1551.7,1501.3 L1553.7,1501.3 L1555.7,1501.3 L1557.7,1501.3 L1559.7,1501.3 L1561.7,1501.3 L1563.7,1501.3 L1565.7,1501.3 L1567.7,1501.3 L1569.7,1501.2 L1571.7,1501.2 L1573.7,1501.2 L1575.7,1501.2 L1577.7,1501.2 L1579.7,1501.2 L1581.7,1501.2 L1583.7,1501.2 L1585.7,1501.1 L1587.7,1501.1 L1589.7,1501.0 L1591.7,1500.9 L1593.7,1500.9 L1595.7,1500.8 L1597.7,1500.8 L1599.7,1500.8 L1601.7,1500.8 L1603.7,1500.8 L1605.7,1500.8 L1607.5,1500.8 L1615.5,1496.9 L1623.5,1496.8 L1631.5,1496.7 L1639.5,1496.5 L1647.5,1496.4 L1655.5,1496.3 L1663.5,1496.2 L1671.5,1496.0 L1679.5,1495.9 L1687.5,1495.8 L1695.5,1495.7 L1703.5,1495.6 L1711.5,1495.4 L1719.5,1495.3 L1727.5,1495.2 L1735.5,1495.1 L1743.5,1494.9 L1751.5,1494.8 L1759.5,1494.7 L1767.5,1494.6 L1775.5,1494.4 L1783.5,1494.3 L1791.5,1494.2 L1799.5,1494.1 L1807.5,1494.0 L1815.5,1493.8 L1823.5,1493.7 L1831.5,1493.6 L1839.5,1493.5 L1847.5,1493.3 L1855.5,1493.2 L1863.5,1493.1 L1871.5,1493.0 L1879.5,1492.8 L1887.5,1492.7 L1895.5,1492.6 L1903.5,1492.5 L1911.5,1492.4 L1919.5,1492.2 L1927.5,1492.1 L1935.5,1492.0 L1943.5,1491.9 L1951.5,1491.7 L1959.5,1491.6 L1967.5,1491.5"/>
<path stroke="#0033ff" d="M310.3,1116.7 L312.3,1132.5 L314.3,1148.7 L316.3,1165.2 L318.3,1182.1 L320.3,1199.5 L322.3,1217.6 L324.3,1235.9 L326.3,1254.4 L328.3,1272.8 L330.3,1291.3 L332.3,1309.9 L334.3,1327.9 L336.3,1344.8 L338.3,1361.1 L340.3,1375.7 L342.3,1387.1 L344.3,1396.6 L346.3,1405.5 L348.3,1415.1 L350.3,1425.5 L352.3,1435.7 L354.3,1445.0 L356.3,1453.3 L358.3,1461.0 L360.3,1468.3 L362.3,1475.0 L364.3,1481.4 L366.3,1487.6 L368.3,1493.5 L370.3,1498.9 L372.3,1503.8 L374.3,1508.1 L376.3,1512.0 L378.3,1515.7 L380.3,1519.1 L382.3,1522.2 L384.3,1525.1 L386.3,1527.6 L388.3,1530.0 L390.3,1532.4 L392.3,1534.6 L394.3,1536.6 L396.3,1538.4 L398.3,1539.9 L400.3,1541.0 L402.3,1541.7 L404.3,1542.3 L406.3,1542.9 L408.3,1543.5 L410.3,1544.0 L412.3,1544.5 L414.3,1544.8 L416.3,1545.1 L418.3,1545.4 L420.3,1545.5 L422.3,1545.6 L424.3,1545.5 L426.3,1545.4 L428.3,1545.2 L430.3,1544.9 L432.3,1544.6 L434.3,1544.2 L436.3,1543.8 L438.3,1543.4 L440.3,1543.0 L442.3,1542.6 L444.3,1542.3 L446.3,1541.8 L448.3,1541.4 L450.3,1540.8 L452.3,1540.3 L454.3,1539.8 L456.3,1539.3 L458.3,1538.9 L460.3,1538.6 L462.3,1538.4 L464.3,1538.1 L466.3,1537.9 L468.3,1537.8 L470.3,1537.7 L472.3,1537.7 L474.3,1537.8 L476.3,1538.2 L478.3,1538.6 L480.3,1539.2 L482.3,1539.8 L484.3,1540.7 L486.3,1542.0 L488.3,1543.7 L490.3,1545.7 L492.3,1548.0 L494.3,1550.6 L496.3,1554.1 L498.3,1558.3 L500.3,1563.4 L502.3,1570.0 L504.3,1578.5 L506.3,1587.4 L508.3,1597.2 L510.3,1607.0 L512.3,1615.8 L514.3,1623.9 L516.3,1631.5 L518.3,1638.8 L520.3,1645.7 L522.3,1651.9 L524.3,1657.2 L526.3,1662.2 L528.3,1666.7 L530.3,1670.7 L532.3,1674.2 L534.3,1677.5 L536.3,1680.6 L538.3,1683.4 L540.3,1685.8 L542.3,1687.8 L544.3,1689.6 L546.3,1691.2 L548.3,1692.6 L550.3,1693.9 L552.3,1695.0 L554.3,1695.9 L556.3,1696.7 L558.3,1697.4 L560.3,1698.0 L562.3,1698.5 L564.3,1699.0 L566.3,1699.4 L568.3,1699.8 L570.3,1700.1 L572.3,1700.3 L574.3,1700.6 L576.3,1700.8 L578.3,1701.0 L580.3,1701.1 L582.3,1701.2 L584.3,1701.3 L586.3,1701.3 L588.3,1701.3 L590.3,1701.4 L592.3,1701.4 L594.3,1701.4 L596.3,1701.4 L598.3,1701.4 L600.3,1701.4 L602.3,1701.5 L604.3,1701.5 L606.3,1701.5 L608.3,1701.5 L610.3,1701.5 L612.3,1701.5 L614.3,1701.5 L616.3,1701.5 L618.3,1701.5 L620.3,1701.5 L622.3,1701.5 L624.3,1701.5 L626.3,1701.5 L628.3,1701.5 L630.3,1701.5 L632.3,1701.5 L634.3,1701.5 L636.3,1701.5 L638.3,1701.5 L640.3,1701.5 L642.3,1701.5 L644.3,1701.5 L646.3,1701.5 L648.3,1701.5 L650.3,1701.5 L652.3,1701.5 L654.3,1701.5 L656.3,1701.5 L658.3,1701.5 L660.3,1701.5 L662.3,1701.5 L664.3,1701.5 L666.3,1701.5 L668.3,1701.5 L670.3,1701.5 L672.3,1701.5 L674.3,1701.5 L676.3,1701.5 L678.3,1701.5 L680.3,1701.5 L682.3,1701.5 L684.3,1701.5 L686.3,1701.5 L688.3,1701.5 L690.3,1701.5 L692.3,1701.5 L694.3,1701.5 L696.3,1701.5 L698.3,1701.5 L700.3,1701.5 L702.3,1701.5 L704.3,1701.5 L706.3,1701.5 L708.3,1701.5 L710.3,1701.5 L712.3,1701.5 L714.3,1701.5 L716.3,1701.5 L718.3,1701.5 L720.3,1701.5 L722.3,1701.5 L724.3,1701.5 L726.3,1701.5 L728.3,1701.5 L730.3,1701.5 L732.3,1701.5 L734.3,1701.5 L736.3,1701.5 L738.3,1701.5 L740.3,1701.5 L742.3,1701.5 L744.3,1701.5 L746.3,1701.5 L748.3,1701.5 L750.3,1701.5 L752.3,1701.5 L754.3,1701.5 L756.3,1701.5 L758.3,1701.5 L760.3,1701.5 L762.3,1701.5 L764.3,1701.5 L766.3,1701.5 L768.3,1701.5 L770.3,1701.5 L772.3,1701.5 L774.3,1701.5 L776.3,1701.5 L778.3,1701.5 L780.3,1701.5 L782.3,1701.5 L784.3,1701.5 L786.3,1701.5 L788.3,1701.5 L790.3,1701.5 L792.3,1701.5 L794.3,1701.5 L796.3,1701.5 L798.3,1701.5 L800.3,1701.5 L802.3,1701.5 L804.3,1701.5 L806.3,1701.5 L808.3,1701.5 L810.3,1701.5 L812.3,1701.5 L814.3,1701.5 L816.3,1701.5 L818.3,1701.5 L820.3,1701.5 L822.3,1701.5 L824.3,1701.5 L826.3,1701.5 L828.3,1701.5 L830.3,1701.5 L832.3,1701.5 L834.3,1701.5 L836.3,1701.5 L838.3,1701.5 L840.3,1701.5 L842.3,1701.5 L844.3,1701.5 L846.3,1701.5 L848.3,1701.5 L850.3,1701.5 L852.3,1701.5 L854.3,1701.5 L856.3,1701.5 L858.3,1701.5 L860.3,1701.5 L862.3,1701.5 L864.3,1701.5 L866.3,1701.5 L868.3,1701.5 L870.3,1701.5 L872.3,1701.5 L874.3,1701.5 L876.3,1701.5 L878.3,1701.5 L880.3,1701.5 L882.3,1701.5 L884.3,1701.5 L886.3,1701.5 L888.3,1701.5 L890.3,1701.5 L892.3,1701.5 L894.3,1701.5 L896.3,1701.5 L898.3,1701.5 L900.3,1701.5 L902.3,1701.5 L904.3,1701.5 L906.3,1701.5 L908.3,1701.5 L910.3,1701.5 L912.3,1701.5 L914.3,1701.5 L916.3,1701.5 L918.3,1701.5 L920.3,1701.5 L922.3,1701.5 L924.3,1701.5 L926.3,1701.5 L928.3,1701.5 L930.3,1701.5 L932.3,1701.5 L934.3,1701.5 L936.3,1701.5 L938.3,1701.5 L940.3,1701.5 L942.3,1701.5 L944.3,1701.5 L946.3,1701.5 L948.3,1701.5 L950.3,1701.5 L952.3,1701.5 L954.3,1701.5 L956.3,1701.5 L958.3,1701.5 L960.3,1701.5 L962.3,1701.5 L964.3,1701.5 L966.3,1701.5 L968.3,1701.5 L970.3,1701.5 L972.3,1701.5 L974.3,1701.5 L976.3,1701.5 L978.3,1701.5 L980.3,1701.5 L982.3,1701.5 L984.3,1701.5 L986.3,1701.5 L988.3,1701.5 L990.3,1701.5 L992.3,1701.5 L994.3,1701.5 L996.3,1701.5 L998.3,1701.5 L1000.3,1701.5 L1002.3,1701.5 L1004.3,1701.5 L1006.3,1701.5 L1008.3,1701.5 L1010.3,1701.5 L1012.3,1701.5 L1014.3,1701.5 L1016.3,1701.5 L1018.3,1701.5 L1020.3,1701.5 L1022.3,1701.5 L1024.3,1701.5 L1026.3,1701.5 L1028.3,1701.5 L1030.3,1701.5 L1032.3,1701.5 L1034.3,1701.5 L1036.3,1701.5 L1038.3,1701.5 L1040.3,1701.5 L1042.3,1701.5 L1044.3,1701.5 L1046.3,1701.5 L1048.3,1701.5 L1050.3,1701.5 L1052.3,1701.5 L1054.3,1701.5 L1056.3,1701.5 L1058.3,1701.5 L1060.3,1701.5 L1062.3,1701.5 L1064.3,1701.5 L1066.3,1701.5 L1068.3,1701.5 L1070.3,1701.5 L1072.3,1701.5 L1074.3,1701.5 L1076.3,1701.5 L1078.3,1701.5 L1080.3,1701.5 L1082.3,1701.5 L1084.3,1701.5 L1086.3,1701.5 L1088.3,1701.5 L1090.3,1701.5 L1092.3,1701.5 L1094.3,1701.5 L1096.3,1701.5 L1098.3,1701.5 L1100.3,1701.5 L1102.3,1701.5 L1104.3,1701.5 L1106.3,1701.5 L1108.3,1701.5 L1110.3,1701.5 L1112.3,1701.5 L1114.3,1701.5 L1116.3,1701.5 L1118.3,1701.5 L1120.3,1701.5 L1122.3,1701.5 L1124.3,1701.5 L1126.3,1701.5 L1128.3,1701.5 L1130.3,1701.5 L1132.3,1701.5 L1134.3,1701.5 L1136.3,1701.5 L1138.3,1701.5 L1140.3,1701.5 L1142.3,1701.5 L1144.3,1701.5 L1146.3,1701.5 L1148.3,1701.5 L1150.3,1701.5 L1152.3,1701.5 L1154.3,1701.5 L1156.3,1701.5 L1158.3,1701.5 L1160.3,1701.5 L1162.3,1701.5 L1164.3,1701.5 L1166.3,1701.5 L1168.3,1701.5 L1170.3,1701.5 L1172.3,1701.5 L1174.3,1701.5 L1176.3,1701.5 L1178.3,1701.5 L1180.3,1701.5 L1182.3,1701.5 L1184.3,1701.5 L1186.3,1701.5 L1188.3,1701.5 L1190.3,1701.5 L1192.3,1701.5 L1194.3,1701.5 L1196.3,1701.5 L1198.3,1701.5 L1200.3,1701.5 L1202.3,1701.5 L1204.3,1701.5 L1206.3,1701.5 L1208.3,1701.5 L1210.3,1701.5 L1212.3,1701.5 L1214.3,1701.5 L1216.3,1701.5 L1218.3,1701.5 L1220.3,1701.5 L1222.3,1701.5 L1224.3,1701.5 L1226.3,1701.5 L1228.3,1701.5 L1230.3,1701.5 L1232.3,1701.5 L1234.3,1701.5 L1236.3,1701.5 L1238.3,1701.5 L1240.3,1701.5 L1242.3,1701.5 L1244.3,1701.5 L1246.3,1701.5 L1248.3,1701.5 L1250.3,1701.5 L1252.3,1701.5 L1254.3,1701.5 L1256.3,1701.5 L1258.3,1701.5 L1260.3,1701.5 L1262.3,1701.5 L1264.3,1701.5 L1266.3,1701.5 L1268.3,1701.5 L1270.3,1701.5 L1272.3,1701.5 L1274.3,1701.5 L1276.3,1701.5 L1278.3,1701.5 L1280.3,1701.5 L1282.3,1701.5 L1284.3,1701.5 L1286.3,1701.5 L1288.3,1701.5 L1290.3,1701.5 L1292.3,1701.5 L1294.3,1701.5 L1296.3,1701.5 L1298.3,1701.5 L1300.3,1701.5 L1302.3,1701.5 L1304.3,1701.5 L1306.3,1701.5 L1308.3,1701.5 L1310.3,1701.5 L1312.3,1701.5 L1314.3,1701.5 L1316.3,1701.5 L1318.3,1701.5 L1320.3,1701.5 L1322.3,1701.5 L1324.3,1701.5 L1326.3,1701.5 L1328.3,1701.5 L1330.3,1701.5 L1332.3,1701.5 L1334.3,1701.5 L1336.3,1701.5 L1338.3,1701.5 L1340.3,1701.5 L1342.3,1701.5 L1344.3,1701.5 L1346.3,1701.5 L1348.3,1701.5 L1350.3,1701.5 L1352.3,1701.5 L1354.3,1701.5 L1356.3,1701.5 L1358.3,1701.5 L1360.3,1701.5 L1362.3,1701.5 L1364.3,1701.5 L1366.3,1701.5 L1368.3,1701.5 L1370.3,1701.5 L1372.3,1701.5 L1374.3,1701.5 L1376.3,1701.5 L1378.3,1701.5 L1380.3,1701.5 L1382.3,1701.5 L1384.3,1701.5 L1386.3,1701.5 L1388.3,1701.5 L1390.3,1701.5 L1392.3,1701.5 L1394.3,1701.5 L1396.3,1701.5 L1398.3,1701.5 L1400.3,1701.5 L1402.3,1701.5 L1404.3,1701.5 L1406.3,1701.5 L1408.3,1701.5 L1410.3,1701.5 L1412.3,1701.5 L1414.3,1701.5 L1416.3,1701.5 L1418.3,1701.5 L1420.3,1701.5 L1422.3,1701.5 L1424.3,1701.5 L1426.3,1701.5 L1428.3,1701.5 L1430.3,1701.5 L1432.3,1701.5 L1434.3,1701.5 L1436.3,1701.5 L1438.3,1701.5 L1440.3,1701.5 L1442.3,1701.5 L1444.3,1701.5 L1446.3,1701.5 L1448.3,1701.5 L1450.3,1701.5 L1452.3,1701.5 L1454.3,1701.5 L1456.3,1701.5 L1458.3,1701.5 L1460.3,1701.5 L1462.3,1701.5 L1464.3,1701.5 L1466.3,1701.5 L1468.3,1701.5 L1470.3,1701.5 L1472.3,1701.5 L1474.3,1701.5 L1476.3,1701.5 L1478.3,1701.5 L1480.3,1701.5 L1482.3,1701.5 L1484.3,1701.5 L1486.3,1701.5 L1488.3,1701.5 L1490.3,1701.5 L1492.3,1701.5 L1494.3,1701.5 L1496.3,1701.5 L1498.3,1701.5 L1500.3,1701.5 L1502.3,1701.5 L1504.3,1701.5 L1506.3,1701.5 L1508.3,1701.5 L1510.3,1701.5 L1512.3,1701.5 L1514.3,1701.5 L1516.3,1701.5 L1518.3,1701.5 L1520.3,1701.5 L1522.3,1701.5 L1524.3,1701.5 L1526.3,1701.5 L1528.3,1701.5 L1530.3,1701.5 L1532.3,1701.5 L1534.3,1701.5 L1536.3,1701.5 L1538.3,1701.5 L1540.3,1701.5 L1542.3,1701.5 L1544.3,1701.5 L1546.3,1701.5 L1548.3,1701.5 L1550.3,1701.5 L1552.3,1701.5 L1554.3,1701.5 L1556.3,1701.5 L1558.3,1701.5 L1560.3,1701.5 L1562.3,1701.5 L1564.3,1701.5 L1566.3,1701.5 L1568.3,1701.5 L1570.3,1701.5 L1572.3,1701.5 L1574.3,1701.5 L1576.3,1701.5 L1578.3,1701.5 L1580.3,1701.5 L1582.3,1701.5 L1584.3,1701.5 L1586.3,1701.5 L1588.3,1701.5 L1590.3,1701.5 L1592.3,1701.5 L1594.3,1701.5 L1596.3,1701.5 L1598.3,1701.5 L1600.3,1701.5 L1602.3,1701.5 L1604.3,1701.5 L1606.3,1701.5 L1607.5,1701.5 L1615.5,1700.6 L1623.5,1700.6 L1631.5,1700.6 L1639.5,1700.6 L1647.5,1700.6 L1655.5,1700.6 L1663.5,1700.6 L1671.5,1700.6 L1679.5,1700.6 L1687.5,1700.6 L1695.5,1700.6 L1703.5,1700.6 L1711.5,1700.6 L1719.5,1700.6 L1727.5,1700.6 L1735.5,1700.6 L1743.5,1700.6 L1751.5,1700.6 L1759.5,1700.6 L1767.5,1700.6 L1775.5,1700.6 L1783.5,1700.6 L1791.5,1700.6 L1799.5,1700.6 L1807.5,1700.6 L1815.5,1700.6 L1823.5,1700.6 L1831.5,1700.6 L1839.5,1700.6 L1847.5,1700.6 L1855.5,1700.6 L1863.5,1700.6 L1871.5,1700.6 L1879.5,1700.6 L1887.5,1700.6 L1895.5,1700.6 L1903.5,1700.6 L1911.5,1700.6 L1919.5,1700.6 L1927.5,1700.6 L1935.5,1700.6 L1943.5,1700.6 L1951.5,1700.6 L1959.5,1700.6 L1967.5,1700.6"/>
</g>
<g fill="#000" shape-rendering="crispEdges">
<rect x="289" y="110" width="1700" height="10"/>
<rect x="289" y="1715" width="1700" height="10"/>
<rect x="289" y="110" width="10" height="1615"/>
<rect x="1979" y="110" width="10" height="1615"/>
<rect x="306" y="78" width="10" height="34"/><rect x="306" y="1723" width="10" height="34"/>
<rect x="353" y="88" width="10" height="24"/><rect x="353" y="1723" width="10" height="24"/>
<rect x="401" y="88" width="10" height="24"/><rect x="401" y="1723" width="10" height="24"/>
<rect x="448" y="88" width="10" height="24"/><rect x="448" y="1723" width="10" height="24"/>
<rect x="495" y="88" width="10" height="24"/><rect x="495" y="1723" width="10" height="24"/>
<rect x="543" y="67" width="10" height="45"/><rect x="543" y="1723" width="10" height="45"/>
<rect x="590" y="88" width="10" height="24"/><rect x="590" y="1723" width="10" height="24"/>
<rect x="637" y="88" width="10" height="24"/><rect x="637" y="1723" width="10" height="24"/>
<rect x="685" y="88" width="10" height="24"/><rect x="685" y="1723" width="10" height="24"/>
<rect x="732" y="88" width="10" height="24"/><rect x="732" y="1723" width="10" height="24"/>
<rect x="779" y="78" width="10" height="34"/><rect x="779" y="1723" width="10" height="34"/>
<rect x="827" y="88" width="10" height="24"/><rect x="827" y="1723" width="10" height="24"/>
<rect x="874" y="88" width="10" height="24"/><rect x="874" y="1723" width="10" height="24"/>
<rect x="921" y="88" width="10" height="24"/><rect x="921" y="1723" width="10" height="24"/>
<rect x="969" y="88" width="10" height="24"/><rect x="969" y="1723" width="10" height="24"/>
<rect x="1016" y="67" width="10" height="45"/><rect x="1016" y="1723" width="10" height="45"/>
<rect x="1063" y="88" width="10" height="24"/><rect x="1063" y="1723" width="10" height="24"/>
<rect x="1111" y="88" width="10" height="24"/><rect x="1111" y="1723" width="10" height="24"/>
<rect x="1158" y="88" width="10" height="24"/><rect x="1158" y="1723" width="10" height="24"/>
<rect x="1205" y="88" width="10" height="24"/><rect x="1205" y="1723" width="10" height="24"/>
<rect x="1253" y="78" width="10" height="34"/><rect x="1253" y="1723" width="10" height="34"/>
<rect x="1300" y="88" width="10" height="24"/><rect x="1300" y="1723" width="10" height="24"/>
<rect x="1347" y="88" width="10" height="24"/><rect x="1347" y="1723" width="10" height="24"/>
<rect x="1395" y="88" width="10" height="24"/><rect x="1395" y="1723" width="10" height="24"/>
<rect x="1442" y="88" width="10" height="24"/><rect x="1442" y="1723" width="10" height="24"/>
<rect x="1489" y="67" width="10" height="45"/><rect x="1489" y="1723" width="10" height="45"/>
<rect x="1537" y="88" width="10" height="24"/><rect x="1537" y="1723" width="10" height="24"/>
<rect x="1584" y="88" width="10" height="24"/><rect x="1584" y="1723" width="10" height="24"/>
<rect x="1631" y="88" width="10" height="24"/><rect x="1631" y="1723" width="10" height="24"/>
<rect x="1679" y="88" width="10" height="24"/><rect x="1679" y="1723" width="10" height="24"/>
<rect x="1726" y="78" width="10" height="34"/><rect x="1726" y="1723" width="10" height="34"/>
<rect x="1773" y="88" width="10" height="24"/><rect x="1773" y="1723" width="10" height="24"/>
<rect x="1821" y="88" width="10" height="24"/><rect x="1821" y="1723" width="10" height="24"/>
<rect x="1868" y="88" width="10" height="24"/><rect x="1868" y="1723" width="10" height="24"/>
<rect x="1915" y="88" width="10" height="24"/><rect x="1915" y="1723" width="10" height="24"/>
<rect x="1963" y="67" width="10" height="45"/><rect x="1963" y="1723" width="10" height="45"/>
<rect x="245" y="1698" width="46" height="11"/><rect x="1987" y="1698" width="45" height="11"/>
<rect x="267" y="1608" width="24" height="11"/><rect x="1987" y="1608" width="24" height="11"/>
<rect x="267" y="1518" width="24" height="11"/><rect x="1987" y="1518" width="24" height="11"/>
<rect x="267" y="1428" width="24" height="11"/><rect x="1987" y="1428" width="24" height="11"/>
<rect x="267" y="1338" width="24" height="11"/><rect x="1987" y="1338" width="24" height="11"/>
<rect x="245" y="1249" width="46" height="11"/><rect x="1987" y="1249" width="45" height="11"/>
<rect x="267" y="1159" width="24" height="11"/><rect x="1987" y="1159" width="24" height="11"/>
<rect x="267" y="1069" width="24" height="11"/><rect x="1987" y="1069" width="24" height="11"/>
<rect x="267" y="979" width="24" height="11"/><rect x="1987" y="979" width="24" height="11"/>
<rect x="267" y="890" width="24" height="11"/><rect x="1987" y="890" width="24" height="11"/>
<rect x="245" y="800" width="46" height="11"/><rect x="1987" y="800" width="45" height="11"/>
<rect x="267" y="710" width="24" height="11"/><rect x="1987" y="710" width="24" height="11"/>
<rect x="267" y="620" width="24" height="11"/><rect x="1987" y="620" width="24" height="11"/>
<rect x="267" y="530" width="24" height="11"/><rect x="1987" y="530" width="24" height="11"/>
<rect x="267" y="440" width="24" height="11"/><rect x="1987" y="440" width="24" height="11"/>
<rect x="245" y="351" width="46" height="11"/><rect x="1987" y="351" width="45" height="11"/>
<rect x="267" y="261" width="24" height="11"/><rect x="1987" y="261" width="24" height="11"/>
<rect x="267" y="171" width="24" height="11"/><rect x="1987" y="171" width="24" height="11"/>
</g>
<g>
<text transform="translate(546.4 1863.0) scale(1.0 1.018)" font-size="74.6" text-anchor="middle" fill="#000">400</text>
<text transform="translate(1020.8 1863.0) scale(1.0 1.018)" font-size="74.6" text-anchor="middle" fill="#000">600</text>
<text transform="translate(1494.0 1863.0) scale(1.0 1.018)" font-size="74.6" text-anchor="middle" fill="#000">800</text>
<text transform="translate(1967.3 1863.0) scale(1.0 1.018)" font-size="74.6" text-anchor="middle" fill="#000">1000</text>
<text transform="translate(224.0 1729.2) scale(1.0 1.018)" font-size="74.6" text-anchor="end" fill="#000">0</text>
<text transform="translate(224.0 1280.2) scale(1.0 1.018)" font-size="74.6" text-anchor="end" fill="#000">1</text>
<text transform="translate(224.0 831.2) scale(1.0 1.018)" font-size="74.6" text-anchor="end" fill="#000">2</text>
<text transform="translate(224.0 382.2) scale(1.0 1.018)" font-size="74.6" text-anchor="end" fill="#000">3</text>
<text transform="translate(1138.0 1955.8) scale(1.0 1.018)" font-size="74.6" text-anchor="middle" fill="#000">Wavelength / nm</text>
<text transform="translate(110.8 915.0) rotate(-90) scale(1.0 1.018)" font-size="74.6" text-anchor="middle" fill="#000">Kubelka-Munk function / -</text>
</g>
</svg>
</body>
</html>
